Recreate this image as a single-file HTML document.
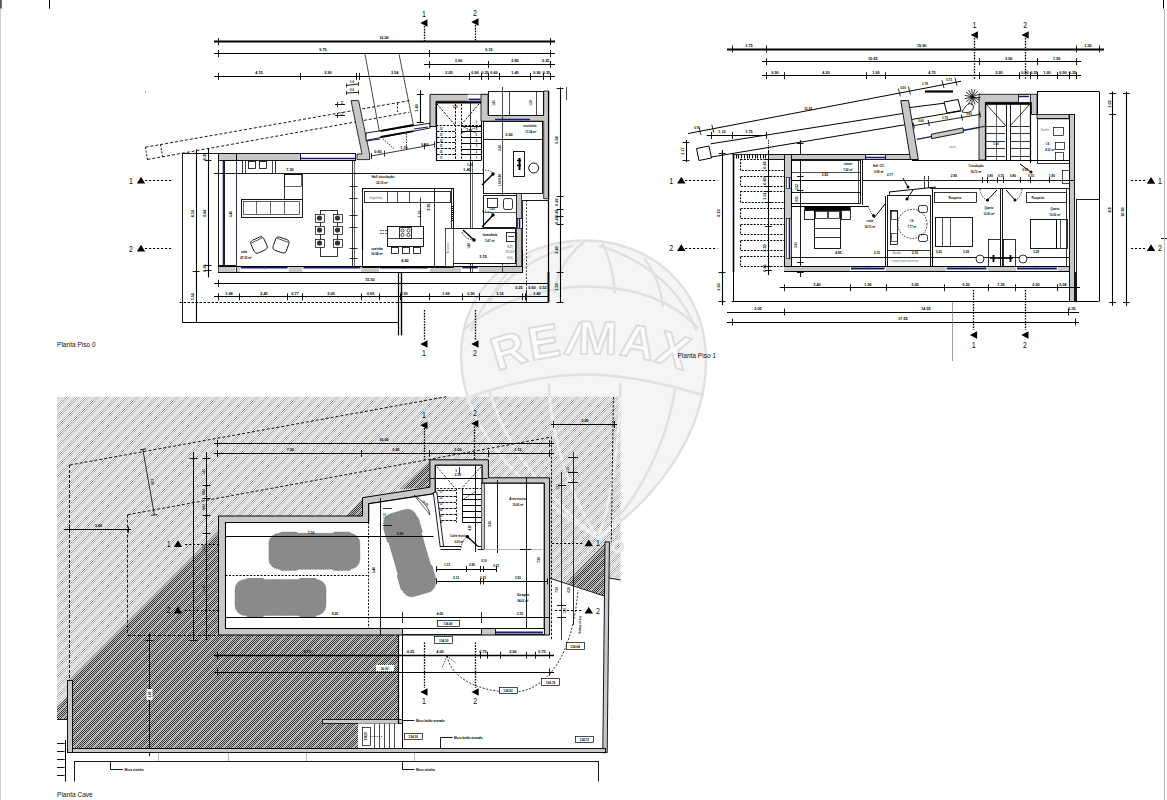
<!DOCTYPE html>
<html><head><meta charset="utf-8"><style>
html,body{margin:0;padding:0;background:#fff;width:1167px;height:800px;overflow:hidden}
svg{display:block}
text{font-family:"Liberation Sans",sans-serif}
</style></head><body>
<svg width="1167" height="800" viewBox="0 0 1167 800">
<defs><pattern id="hl" patternUnits="userSpaceOnUse" width="10" height="10" shape-rendering="crispEdges"><path d="M0 0h1v1h-1zM9 1h1v1h-1zM8 2h1v1h-1zM7 3h1v1h-1zM6 4h1v1h-1zM5 5h1v1h-1zM4 6h1v1h-1zM3 7h1v1h-1zM2 8h1v1h-1zM1 9h1v1h-1z" fill="#f2f2f2"/><path d="M1 0h1v1h-1zM5 0h1v1h-1zM0 1h1v1h-1zM4 1h1v1h-1zM3 2h1v1h-1zM9 2h1v1h-1zM2 3h1v1h-1zM8 3h1v1h-1zM1 4h1v1h-1zM7 4h1v1h-1zM0 5h1v1h-1zM6 5h1v1h-1zM5 6h1v1h-1zM9 6h1v1h-1zM4 7h1v1h-1zM8 7h1v1h-1zM3 8h1v1h-1zM7 8h1v1h-1zM2 9h1v1h-1zM6 9h1v1h-1z" fill="#b8b8b8"/><path d="M2 0h1v1h-1zM4 0h1v1h-1zM1 1h1v1h-1zM3 1h1v1h-1zM0 2h1v1h-1zM2 2h1v1h-1zM1 3h1v1h-1zM9 3h1v1h-1zM0 4h1v1h-1zM8 4h1v1h-1zM7 5h1v1h-1zM9 5h1v1h-1zM6 6h1v1h-1zM8 6h1v1h-1zM5 7h1v1h-1zM7 7h1v1h-1zM4 8h1v1h-1zM6 8h1v1h-1zM3 9h1v1h-1zM5 9h1v1h-1z" fill="#ffffff"/><path d="M3 0h1v1h-1zM2 1h1v1h-1zM1 2h1v1h-1zM0 3h1v1h-1zM9 4h1v1h-1zM8 5h1v1h-1zM7 6h1v1h-1zM6 7h1v1h-1zM5 8h1v1h-1zM4 9h1v1h-1z" fill="#989898"/><path d="M6 0h1v1h-1zM7 0h1v1h-1zM8 0h1v1h-1zM9 0h1v1h-1zM5 1h1v1h-1zM6 1h1v1h-1zM7 1h1v1h-1zM8 1h1v1h-1zM4 2h1v1h-1zM5 2h1v1h-1zM6 2h1v1h-1zM7 2h1v1h-1zM3 3h1v1h-1zM4 3h1v1h-1zM5 3h1v1h-1zM6 3h1v1h-1zM2 4h1v1h-1zM3 4h1v1h-1zM4 4h1v1h-1zM5 4h1v1h-1zM1 5h1v1h-1zM2 5h1v1h-1zM3 5h1v1h-1zM4 5h1v1h-1zM0 6h1v1h-1zM1 6h1v1h-1zM2 6h1v1h-1zM3 6h1v1h-1zM0 7h1v1h-1zM1 7h1v1h-1zM2 7h1v1h-1zM9 7h1v1h-1zM0 8h1v1h-1zM1 8h1v1h-1zM8 8h1v1h-1zM9 8h1v1h-1zM0 9h1v1h-1zM7 9h1v1h-1zM8 9h1v1h-1zM9 9h1v1h-1z" fill="#e1e1e1"/></pattern><pattern id="hd" patternUnits="userSpaceOnUse" width="10" height="10" shape-rendering="crispEdges"><path d="M0 0h1v1h-1zM9 1h1v1h-1zM8 2h1v1h-1zM7 3h1v1h-1zM6 4h1v1h-1zM5 5h1v1h-1zM4 6h1v1h-1zM3 7h1v1h-1zM2 8h1v1h-1zM1 9h1v1h-1z" fill="#a0a0a0"/><path d="M1 0h1v1h-1zM3 0h1v1h-1zM5 0h1v1h-1zM7 0h1v1h-1zM9 0h1v1h-1zM0 1h1v1h-1zM2 1h1v1h-1zM4 1h1v1h-1zM6 1h1v1h-1zM8 1h1v1h-1zM1 2h1v1h-1zM3 2h1v1h-1zM5 2h1v1h-1zM7 2h1v1h-1zM9 2h1v1h-1zM0 3h1v1h-1zM2 3h1v1h-1zM4 3h1v1h-1zM6 3h1v1h-1zM8 3h1v1h-1zM1 4h1v1h-1zM3 4h1v1h-1zM5 4h1v1h-1zM7 4h1v1h-1zM9 4h1v1h-1zM0 5h1v1h-1zM2 5h1v1h-1zM4 5h1v1h-1zM6 5h1v1h-1zM8 5h1v1h-1zM1 6h1v1h-1zM3 6h1v1h-1zM5 6h1v1h-1zM7 6h1v1h-1zM9 6h1v1h-1zM0 7h1v1h-1zM2 7h1v1h-1zM4 7h1v1h-1zM6 7h1v1h-1zM8 7h1v1h-1zM1 8h1v1h-1zM3 8h1v1h-1zM5 8h1v1h-1zM7 8h1v1h-1zM9 8h1v1h-1zM0 9h1v1h-1zM2 9h1v1h-1zM4 9h1v1h-1zM6 9h1v1h-1zM8 9h1v1h-1z" fill="#c6c6c6"/><path d="M2 0h1v1h-1zM4 0h1v1h-1zM6 0h1v1h-1zM8 0h1v1h-1zM1 1h1v1h-1zM3 1h1v1h-1zM5 1h1v1h-1zM7 1h1v1h-1zM0 2h1v1h-1zM2 2h1v1h-1zM4 2h1v1h-1zM6 2h1v1h-1zM1 3h1v1h-1zM3 3h1v1h-1zM5 3h1v1h-1zM9 3h1v1h-1zM0 4h1v1h-1zM2 4h1v1h-1zM4 4h1v1h-1zM8 4h1v1h-1zM1 5h1v1h-1zM3 5h1v1h-1zM7 5h1v1h-1zM9 5h1v1h-1zM0 6h1v1h-1zM2 6h1v1h-1zM6 6h1v1h-1zM8 6h1v1h-1zM1 7h1v1h-1zM5 7h1v1h-1zM7 7h1v1h-1zM9 7h1v1h-1zM0 8h1v1h-1zM4 8h1v1h-1zM6 8h1v1h-1zM8 8h1v1h-1zM3 9h1v1h-1zM5 9h1v1h-1zM7 9h1v1h-1zM9 9h1v1h-1z" fill="#333333"/></pattern></defs>
<rect width="1167" height="800" fill="#fff"/>
<path d="M598 538 C545 505 462 440 461 358 C460 285 520 240.5 585 240.5 C650 240.5 706 287 706 360 C706 440 648 505 598 538 Z" fill="#f5f5f5" stroke="none"/>
<g fill="none" stroke="#e0e0e0" stroke-width="2.4" stroke-linejoin="round" stroke-linecap="round" opacity="1.0">
<path d="M598 538 C545 505 462 440 461 358 C460 285 520 240.5 585 240.5 C650 240.5 706 287 706 360 C706 440 648 505 598 538 Z"/>
<path d="M464 330 C495 300 550 287 585 286.5 C625 286.5 668 296 698 328"/>
<path d="M467 398 C505 384 550 374.5 585 374.5 C620 374.5 660 382 703 395"/>
<path d="M585 241 C566 256 556 275 554.5 292"/>
<path d="M603 244 C610 260 614 276 614.6 292.5"/>
<path d="M530 256 C508 268 496 283 490 303"/>
<path d="M645 259 C656 274 661 290 663 306"/>
<path d="M548.8 384 C551 440 572 500 598 538"/>
<path d="M620.4 384 C620 440 612 500 598 538"/>
<path d="M490 392 C505 450 555 505 598 538"/>
<path d="M675 390 C665 450 635 505 598 538"/>
<path d="M471 330 C488 288 528 258 572 246"/>
<path d="M696 330 C681 290 646 260 600 246"/>
<circle cx="617.8" cy="546.4" r="5"/>
</g>
<defs><path id="wmarc" d="M331 614 A260 260 0 0 1 851 614"/></defs>
<text font-size="47" font-weight="bold" fill="#fbfbfb" stroke="#dadada" stroke-width="1.7" letter-spacing="1.5" font-family="Liberation Sans"><textPath href="#wmarc" startOffset="50%" text-anchor="middle">RE<tspan rotate="20">/</tspan>MAX</textPath></text>
<line x1="214" y1="41.5" x2="555" y2="41.5" stroke="#000" stroke-width="1.9"/>
<line x1="218.5" y1="38.1" x2="218.5" y2="45.1" stroke="#000" stroke-width="0.9"/>
<line x1="550.5" y1="38.1" x2="550.5" y2="45.1" stroke="#000" stroke-width="0.9"/>
<text transform="translate(384 39.4) scale(0.86 1)" font-size="4.4" text-anchor="middle" fill="#000" font-weight="bold">16.00</text>
<line x1="214" y1="53.5" x2="555" y2="53.5" stroke="#000" stroke-width="1.2"/>
<line x1="218.5" y1="50" x2="218.5" y2="57" stroke="#000" stroke-width="0.9"/>
<line x1="429.5" y1="50" x2="429.5" y2="57" stroke="#000" stroke-width="0.9"/>
<line x1="550.5" y1="50" x2="550.5" y2="57" stroke="#000" stroke-width="0.9"/>
<text transform="translate(323 51.3) scale(0.86 1)" font-size="4.4" text-anchor="middle" fill="#000" font-weight="bold">9.75</text>
<text transform="translate(489 51.3) scale(0.86 1)" font-size="4.4" text-anchor="middle" fill="#000" font-weight="bold">6.15</text>
<line x1="424" y1="64.5" x2="555" y2="64.5" stroke="#000" stroke-width="1.2"/>
<line x1="429.5" y1="61" x2="429.5" y2="68" stroke="#000" stroke-width="0.9"/>
<line x1="488.5" y1="61" x2="488.5" y2="68" stroke="#000" stroke-width="0.9"/>
<line x1="550.5" y1="61" x2="550.5" y2="68" stroke="#000" stroke-width="0.9"/>
<text transform="translate(458.5 62.3) scale(0.86 1)" font-size="4.4" text-anchor="middle" fill="#000" font-weight="bold">3.00</text>
<text transform="translate(515 62.3) scale(0.86 1)" font-size="4.4" text-anchor="middle" fill="#000" font-weight="bold">2.80</text>
<text transform="translate(545.7 62.3) scale(0.86 1)" font-size="4.4" text-anchor="middle" fill="#000" font-weight="bold">0.35</text>
<line x1="214" y1="76.5" x2="555" y2="76.5" stroke="#000" stroke-width="1.2"/>
<line x1="218.5" y1="72.9" x2="218.5" y2="79.9" stroke="#000" stroke-width="0.9"/>
<line x1="300.5" y1="72.9" x2="300.5" y2="79.9" stroke="#000" stroke-width="0.9"/>
<line x1="356.5" y1="72.9" x2="356.5" y2="79.9" stroke="#000" stroke-width="0.9"/>
<line x1="359.5" y1="72.9" x2="359.5" y2="79.9" stroke="#000" stroke-width="0.9"/>
<line x1="429.5" y1="72.9" x2="429.5" y2="79.9" stroke="#000" stroke-width="0.9"/>
<line x1="469.5" y1="72.9" x2="469.5" y2="79.9" stroke="#000" stroke-width="0.9"/>
<line x1="481.5" y1="72.9" x2="481.5" y2="79.9" stroke="#000" stroke-width="0.9"/>
<line x1="488.5" y1="72.9" x2="488.5" y2="79.9" stroke="#000" stroke-width="0.9"/>
<line x1="499.5" y1="72.9" x2="499.5" y2="79.9" stroke="#000" stroke-width="0.9"/>
<line x1="530.5" y1="72.9" x2="530.5" y2="79.9" stroke="#000" stroke-width="0.9"/>
<line x1="543.5" y1="72.9" x2="543.5" y2="79.9" stroke="#000" stroke-width="0.9"/>
<line x1="550.5" y1="72.9" x2="550.5" y2="79.9" stroke="#000" stroke-width="0.9"/>
<text transform="translate(259 74.2) scale(0.86 1)" font-size="4.4" text-anchor="middle" fill="#000" font-weight="bold">4.15</text>
<text transform="translate(328 74.2) scale(0.86 1)" font-size="4.4" text-anchor="middle" fill="#000" font-weight="bold">2.90</text>
<text transform="translate(394.7 74.2) scale(0.86 1)" font-size="4.4" text-anchor="middle" fill="#000" font-weight="bold">3.54</text>
<text transform="translate(449 74.2) scale(0.86 1)" font-size="4.4" text-anchor="middle" fill="#000" font-weight="bold">2.05</text>
<text transform="translate(475 74.2) scale(0.86 1)" font-size="4.4" text-anchor="middle" fill="#000" font-weight="bold">0.90</text>
<text transform="translate(485 74.2) scale(0.86 1)" font-size="4.4" text-anchor="middle" fill="#000" font-weight="bold">0.35</text>
<text transform="translate(494 74.2) scale(0.86 1)" font-size="4.4" text-anchor="middle" fill="#000" font-weight="bold">0.60</text>
<text transform="translate(515 74.2) scale(0.86 1)" font-size="4.4" text-anchor="middle" fill="#000" font-weight="bold">1.40</text>
<text transform="translate(537 74.2) scale(0.86 1)" font-size="4.4" text-anchor="middle" fill="#000" font-weight="bold">0.90</text>
<text transform="translate(546.5 74.2) scale(0.86 1)" font-size="4.4" text-anchor="middle" fill="#000" font-weight="bold">0.35</text>
<text transform="translate(424 17) scale(0.85 1)" font-size="8.3" text-anchor="middle" fill="#111" font-weight="normal">1</text>
<polygon points="420.3,23 427.5,19.2 427.5,26.8" fill="#000" stroke="none" stroke-width="0.8"/>
<line x1="424.5" y1="26" x2="424.5" y2="41" stroke="#000" stroke-width="1.3" stroke-dasharray="1.6,1.2"/>
<text transform="translate(475 16) scale(0.85 1)" font-size="8.3" text-anchor="middle" fill="#111" font-weight="normal">2</text>
<polygon points="471.3,22 478.5,18.2 478.5,25.8" fill="#000" stroke="none" stroke-width="0.8"/>
<line x1="475.5" y1="25" x2="475.5" y2="41" stroke="#000" stroke-width="1.3" stroke-dasharray="1.6,1.2"/>
<rect x="145" y="91.5" width="1" height="1" fill="#444" stroke="none" stroke-width="0.8"/>
<line x1="365" y1="54" x2="380.5" y2="138" stroke="#000" stroke-width="0.7"/>
<line x1="399" y1="54" x2="414" y2="128" stroke="#000" stroke-width="0.7"/>
<line x1="145.5" y1="147.2" x2="409.3" y2="100.6" stroke="#000" stroke-width="0.9" stroke-dasharray="3,2"/>
<line x1="147.4" y1="159.5" x2="409.3" y2="112.2" stroke="#000" stroke-width="0.9" stroke-dasharray="3,2"/>
<polyline points="145.5,147.2 147.4,159.5" fill="none" stroke="#000" stroke-width="0.9" stroke-dasharray="2,1.5"/>
<polyline points="160.6,144.5 162.5,157" fill="none" stroke="#000" stroke-width="0.9" stroke-dasharray="2,1.5"/>
<line x1="397.5" y1="103" x2="397.5" y2="112" stroke="#000" stroke-width="0.8" stroke-dasharray="2,1.5"/>
<line x1="346" y1="85.5" x2="358.6" y2="84" stroke="#000" stroke-width="0.9"/>
<line x1="346" y1="93" x2="358.6" y2="92.3" stroke="#000" stroke-width="0.9"/>
<line x1="346.5" y1="83.5" x2="346.5" y2="87.5" stroke="#000" stroke-width="0.7"/>
<line x1="358.5" y1="82" x2="358.5" y2="86" stroke="#000" stroke-width="0.7"/>
<line x1="346.5" y1="91" x2="346.5" y2="95" stroke="#000" stroke-width="0.7"/>
<line x1="358.5" y1="90.3" x2="358.5" y2="94.3" stroke="#000" stroke-width="0.7"/>
<text transform="translate(352 82.5) scale(0.86 1)" font-size="3.2" text-anchor="middle" fill="#000" font-weight="bold">1.6</text>
<text transform="translate(352 90.5) scale(0.86 1)" font-size="3.2" text-anchor="middle" fill="#000" font-weight="bold">0.6</text>
<line x1="335" y1="104.5" x2="345" y2="104.5" stroke="#000" stroke-width="0.9"/>
<line x1="335" y1="115.5" x2="345" y2="115.5" stroke="#000" stroke-width="0.9"/>
<line x1="337.5" y1="102" x2="337.5" y2="107" stroke="#000" stroke-width="0.8"/>
<line x1="337.5" y1="113" x2="337.5" y2="118" stroke="#000" stroke-width="0.8"/>
<text transform="translate(343 103) rotate(-80) scale(0.86 1)" font-size="3.2" text-anchor="middle" fill="#000" font-weight="bold">1.5</text>
<text transform="translate(343 114) rotate(-80) scale(0.86 1)" font-size="3.2" text-anchor="middle" fill="#000" font-weight="bold">1.5</text>
<polygon points="351,100.6 358.6,100.6 369.6,154 369.6,159.6 357,159.6 357,154 362,154" fill="#c8c8c8" stroke="#000" stroke-width="0.8"/>
<polygon points="366,133 430,123.2 430,128 366,140.4" fill="#fff" stroke="#000" stroke-width="0.9"/>
<line x1="366" y1="141" x2="380" y2="139" stroke="#1a1a7a" stroke-width="1.2"/>
<line x1="414" y1="129" x2="428" y2="127" stroke="#1a1a7a" stroke-width="1.2"/>
<line x1="371" y1="156" x2="434" y2="144.5" stroke="#000" stroke-width="0.8"/>
<text transform="translate(378 153) scale(0.86 1)" font-size="4.4" text-anchor="middle" fill="#000" font-weight="bold">0.60</text>
<text transform="translate(404 149) scale(0.86 1)" font-size="4.4" text-anchor="middle" fill="#000" font-weight="bold">1.70</text>
<text transform="translate(425 145.5) scale(0.86 1)" font-size="4.4" text-anchor="middle" fill="#000" font-weight="bold">0.60</text>
<line x1="371.5" y1="153" x2="371.5" y2="159" stroke="#000" stroke-width="0.8"/>
<line x1="384.5" y1="150.63" x2="384.5" y2="156.63" stroke="#000" stroke-width="0.8"/>
<line x1="424.5" y1="143.33" x2="424.5" y2="149.33" stroke="#000" stroke-width="0.8"/>
<line x1="434.5" y1="141.5" x2="434.5" y2="147.5" stroke="#000" stroke-width="0.8"/>
<line x1="383" y1="139" x2="394" y2="148.6" stroke="#000" stroke-width="0.8" stroke-dasharray="1.5,1.2"/>
<line x1="406.5" y1="133.5" x2="406.5" y2="150" stroke="#000" stroke-width="0.8" stroke-dasharray="1.5,1.2"/>
<rect x="380.5" y="126" width="33" height="10" fill="none" stroke="none" stroke-width="0.8"/>
<line x1="380.5" y1="137" x2="413.5" y2="131.2" stroke="#000" stroke-width="1.8"/>
<line x1="380.5" y1="131" x2="413.5" y2="125" stroke="#000" stroke-width="1.8"/>
<line x1="420.5" y1="90.3" x2="420.5" y2="122.5" stroke="#000" stroke-width="1.1"/>
<line x1="416.8" y1="94.5" x2="423.8" y2="94.5" stroke="#000" stroke-width="0.9"/>
<line x1="416.8" y1="122.5" x2="423.8" y2="122.5" stroke="#000" stroke-width="0.9"/>
<text transform="translate(418.3 108) rotate(-90) scale(0.86 1)" font-size="4.4" text-anchor="middle" fill="#000" font-weight="bold">1.40</text>
<rect x="218.5" y="153.5" width="82" height="7" fill="#c8c8c8" stroke="#000" stroke-width="0.9"/>
<line x1="236.5" y1="154" x2="236.5" y2="160" stroke="#000" stroke-width="0.6"/>
<rect x="300.5" y="153.5" width="55" height="7" fill="#fff" stroke="#000" stroke-width="0.9"/>
<line x1="300.3" y1="158.5" x2="355.8" y2="158.5" stroke="#1a1a7a" stroke-width="1.6"/>
<rect x="218.5" y="153.5" width="6" height="119" fill="#fff" stroke="#000" stroke-width="0.9"/>
<line x1="223.5" y1="161" x2="223.5" y2="266" stroke="#1a1a7a" stroke-width="1.6"/>
<rect x="218.5" y="153.5" width="18" height="7" fill="#c8c8c8" stroke="#000" stroke-width="0.9"/>
<rect x="218.5" y="265.5" width="17" height="7" fill="#c8c8c8" stroke="#000" stroke-width="0.9"/>
<line x1="236.5" y1="160" x2="236.5" y2="266" stroke="#000" stroke-width="0.8"/>
<rect x="218.5" y="266.5" width="304" height="6" fill="#fff" stroke="#000" stroke-width="0.9"/>
<rect x="218.6" y="266.8" width="16.8" height="5.2" fill="#c8c8c8" stroke="none" stroke-width="0.8"/>
<rect x="236.8" y="266.8" width="3" height="5.2" fill="#c8c8c8" stroke="none" stroke-width="0.8"/>
<rect x="288.6" y="266.8" width="13.8" height="5.2" fill="#c8c8c8" stroke="none" stroke-width="0.8"/>
<rect x="361.4" y="266.8" width="17.6" height="5.2" fill="#c8c8c8" stroke="none" stroke-width="0.8"/>
<rect x="430.2" y="266.8" width="31" height="5.2" fill="#c8c8c8" stroke="none" stroke-width="0.8"/>
<rect x="479" y="266.8" width="23.5" height="5.2" fill="#c8c8c8" stroke="none" stroke-width="0.8"/>
<rect x="503" y="266.8" width="19.2" height="5.2" fill="#c8c8c8" stroke="none" stroke-width="0.8"/>
<line x1="240.8" y1="267.5" x2="287.6" y2="267.5" stroke="#1a1a7a" stroke-width="1.8"/>
<line x1="264.5" y1="267" x2="264.5" y2="269" stroke="#555" stroke-width="0.8"/>
<line x1="303.4" y1="267.5" x2="360.4" y2="267.5" stroke="#1a1a7a" stroke-width="1.8"/>
<line x1="331.5" y1="267" x2="331.5" y2="269" stroke="#555" stroke-width="0.8"/>
<line x1="380" y1="267.5" x2="427.6" y2="267.5" stroke="#1a1a7a" stroke-width="1.8"/>
<line x1="403.5" y1="267" x2="403.5" y2="269" stroke="#555" stroke-width="0.8"/>
<line x1="462.2" y1="267.5" x2="478" y2="267.5" stroke="#1a1a7a" stroke-width="1.8"/>
<line x1="470.5" y1="267" x2="470.5" y2="269" stroke="#555" stroke-width="0.8"/>
<line x1="236.5" y1="266.4" x2="236.5" y2="272.4" stroke="#000" stroke-width="0.8"/>
<line x1="218.6" y1="266.5" x2="522.2" y2="266.5" stroke="#000" stroke-width="1.0"/>
<line x1="218.6" y1="272.5" x2="522.2" y2="272.5" stroke="#000" stroke-width="1.2"/>
<line x1="522.5" y1="250" x2="522.5" y2="272.3" stroke="#000" stroke-width="1.0"/>
<line x1="224" y1="160.5" x2="356" y2="160.5" stroke="#000" stroke-width="0.9"/>
<line x1="214" y1="173.5" x2="483" y2="173.5" stroke="#000" stroke-width="0.9"/>
<text transform="translate(290 170.5) scale(0.86 1)" font-size="4.4" text-anchor="middle" fill="#000" font-weight="bold">7.30</text>
<rect x="242.5" y="160.5" width="33" height="13" fill="#fff" stroke="#000" stroke-width="0.8"/>
<line x1="245.5" y1="160.5" x2="245.5" y2="173" stroke="#000" stroke-width="0.7"/>
<line x1="272.5" y1="160.5" x2="272.5" y2="173" stroke="#000" stroke-width="0.7"/>
<rect x="248.5" y="161.5" width="7" height="7" fill="none" stroke="#000" stroke-width="0.8"/>
<rect x="259.5" y="161.5" width="7" height="7" fill="none" stroke="#000" stroke-width="0.8"/>
<rect x="241.5" y="199.5" width="61" height="18" fill="none" stroke="#000" stroke-width="0.9"/>
<rect x="243.5" y="201.5" width="56" height="13" fill="none" stroke="#000" stroke-width="0.6"/>
<line x1="256.5" y1="201" x2="256.5" y2="214" stroke="#000" stroke-width="0.6"/>
<line x1="270.5" y1="201" x2="270.5" y2="214" stroke="#000" stroke-width="0.6"/>
<line x1="284.5" y1="201" x2="284.5" y2="214" stroke="#000" stroke-width="0.6"/>
<rect x="284.5" y="174.5" width="18" height="25" fill="none" stroke="#000" stroke-width="0.8"/>
<rect x="284.5" y="174.5" width="17" height="12" fill="none" stroke="#000" stroke-width="0.6"/>
<g transform="rotate(-25 259 245)"><rect x="252" y="238" width="14" height="14" fill="#fff" stroke="#000" stroke-width="0.8" rx="3"/><path d="M253 240 h12" stroke="#000" stroke-width="0.6"/></g>
<g transform="rotate(20 281 245)"><rect x="274" y="238" width="14" height="14" fill="#fff" stroke="#000" stroke-width="0.8" rx="3"/><path d="M275 240 h12" stroke="#000" stroke-width="0.6"/></g>
<rect x="320.5" y="210.5" width="17" height="46" fill="none" stroke="#000" stroke-width="0.8"/>
<rect x="315.5" y="214.5" width="9" height="8" fill="#fff" stroke="#000" stroke-width="0.7"/>
<circle cx="319.5" cy="218" r="2.6" fill="#333"/>
<rect x="333.5" y="214.5" width="9" height="8" fill="#fff" stroke="#000" stroke-width="0.7"/>
<circle cx="337.5" cy="218" r="2.6" fill="#333"/>
<rect x="315.5" y="226.5" width="9" height="8" fill="#fff" stroke="#000" stroke-width="0.7"/>
<circle cx="319.5" cy="230" r="2.6" fill="#333"/>
<rect x="333.5" y="226.5" width="9" height="8" fill="#fff" stroke="#000" stroke-width="0.7"/>
<circle cx="337.5" cy="230" r="2.6" fill="#333"/>
<rect x="315.5" y="239.5" width="9" height="8" fill="#fff" stroke="#000" stroke-width="0.7"/>
<circle cx="319.5" cy="243" r="2.6" fill="#333"/>
<rect x="333.5" y="239.5" width="9" height="8" fill="#fff" stroke="#000" stroke-width="0.7"/>
<circle cx="337.5" cy="243" r="2.6" fill="#333"/>
<text transform="translate(244 253) scale(0.86 1)" font-size="3.6" text-anchor="middle" fill="#000" font-weight="bold">sala</text>
<text transform="translate(246 258.5) scale(0.86 1)" font-size="3.4" text-anchor="middle" fill="#000" font-weight="bold">47.03 m²</text>
<text transform="translate(383 177.5) scale(0.86 1)" font-size="3.8" text-anchor="middle" fill="#000" font-weight="bold">Hall circulação</text>
<text transform="translate(382 183.5) scale(0.86 1)" font-size="3.4" text-anchor="middle" fill="#000" font-weight="bold">22.10 m²</text>
<line x1="352.5" y1="160" x2="352.5" y2="266" stroke="#000" stroke-width="0.8"/>
<line x1="354.5" y1="160" x2="354.5" y2="266" stroke="#000" stroke-width="0.6"/>
<line x1="349.5" y1="173.5" x2="357.5" y2="173.5" stroke="#000" stroke-width="0.8"/>
<line x1="349.5" y1="186.5" x2="357.5" y2="186.5" stroke="#000" stroke-width="0.8"/>
<line x1="349.5" y1="198.5" x2="357.5" y2="198.5" stroke="#000" stroke-width="0.8"/>
<line x1="349.5" y1="215.5" x2="357.5" y2="215.5" stroke="#000" stroke-width="0.8"/>
<line x1="349.5" y1="227.5" x2="357.5" y2="227.5" stroke="#000" stroke-width="0.8"/>
<line x1="349.5" y1="248.5" x2="357.5" y2="248.5" stroke="#000" stroke-width="0.8"/>
<line x1="349.5" y1="258.5" x2="357.5" y2="258.5" stroke="#000" stroke-width="0.8"/>
<rect x="362.5" y="188.5" width="91" height="79" fill="none" stroke="#000" stroke-width="0.9"/>
<rect x="364.5" y="191.5" width="86" height="11" fill="none" stroke="#000" stroke-width="0.8"/>
<line x1="387.5" y1="191" x2="387.5" y2="202.5" stroke="#000" stroke-width="0.7"/>
<line x1="397.5" y1="191" x2="397.5" y2="202.5" stroke="#000" stroke-width="0.7"/>
<line x1="409.5" y1="191" x2="409.5" y2="202.5" stroke="#000" stroke-width="0.7"/>
<line x1="434.5" y1="191" x2="434.5" y2="202.5" stroke="#000" stroke-width="0.7"/>
<text transform="translate(376 198.5) scale(0.86 1)" font-size="3.2" text-anchor="middle" fill="#888" font-weight="bold">frigorífico</text>
<rect x="387.5" y="226.5" width="36" height="20" fill="none" stroke="#000" stroke-width="0.9"/>
<line x1="387" y1="238.5" x2="423" y2="238.5" stroke="#000" stroke-width="0.7"/>
<rect x="399.5" y="227.5" width="12" height="11" fill="none" stroke="#000" stroke-width="0.8"/>
<circle cx="402.5" cy="230.5" r="1.6" fill="none" stroke="#000" stroke-width="0.7"/>
<circle cx="402.5" cy="235" r="1.6" fill="none" stroke="#000" stroke-width="0.7"/>
<circle cx="408.5" cy="230.5" r="1.6" fill="none" stroke="#000" stroke-width="0.7"/>
<circle cx="408.5" cy="235" r="1.6" fill="none" stroke="#000" stroke-width="0.7"/>
<rect x="391.5" y="247.5" width="7" height="6" fill="none" stroke="#000" stroke-width="0.8"/>
<rect x="402.5" y="247.5" width="7" height="6" fill="none" stroke="#000" stroke-width="0.8"/>
<rect x="413.5" y="247.5" width="7" height="6" fill="none" stroke="#000" stroke-width="0.8"/>
<line x1="380" y1="230.5" x2="388" y2="230.5" stroke="#000" stroke-width="0.7" stroke-dasharray="1.5,1"/>
<line x1="380" y1="233.5" x2="388" y2="233.5" stroke="#000" stroke-width="0.7" stroke-dasharray="1.5,1"/>
<line x1="420.5" y1="197.5" x2="420.5" y2="226" stroke="#000" stroke-width="0.8"/>
<text transform="translate(421 214) rotate(-90) scale(0.86 1)" font-size="4.4" text-anchor="middle" fill="#000" font-weight="bold">1.75</text>
<line x1="362.5" y1="209" x2="362.5" y2="250" stroke="#000" stroke-width="1.2"/>
<text transform="translate(377 249.5) scale(0.86 1)" font-size="3.6" text-anchor="middle" fill="#000" font-weight="bold">cozinha</text>
<text transform="translate(377 255) scale(0.86 1)" font-size="3.4" text-anchor="middle" fill="#000" font-weight="bold">16.04 m²</text>
<text transform="translate(405 261.5) scale(0.86 1)" font-size="4.4" text-anchor="middle" fill="#000" font-weight="bold">4.40</text>
<line x1="434.5" y1="188" x2="434.5" y2="267" stroke="#000" stroke-width="0.8"/>
<line x1="451.5" y1="188" x2="451.5" y2="267" stroke="#000" stroke-width="0.8"/>
<line x1="453.5" y1="188" x2="453.5" y2="267" stroke="#000" stroke-width="0.8"/>
<line x1="452.5" y1="206" x2="452.5" y2="221" stroke="#000" stroke-width="1.6" stroke-dasharray="1,1"/>
<text transform="translate(430 207) rotate(-90) scale(0.86 1)" font-size="4.4" text-anchor="middle" fill="#000" font-weight="bold">3.95</text>
<line x1="470.5" y1="95" x2="470.5" y2="272" stroke="#000" stroke-width="0.8"/>
<line x1="472.5" y1="160" x2="472.5" y2="272" stroke="#000" stroke-width="0.6"/>
<line x1="440" y1="173.5" x2="483" y2="173.5" stroke="#000" stroke-width="0.9"/>
<text transform="translate(467 171) scale(0.86 1)" font-size="4.4" text-anchor="middle" fill="#000" font-weight="bold">1.40</text>
<polygon points="430,94.4 488,94.4 488,101.3 436,101.3 436,126.5 430,126.5" fill="#c8c8c8" stroke="#000" stroke-width="0.9"/>
<rect x="467.8" y="94.6" width="13.2" height="6.5" fill="#fff" stroke="none" stroke-width="0.8"/>
<line x1="468.5" y1="99.5" x2="480.5" y2="99.5" stroke="#1a1a7a" stroke-width="1.8"/>
<line x1="436.5" y1="101.3" x2="436.5" y2="160.5" stroke="#000" stroke-width="1.2"/>
<line x1="436" y1="102.5" x2="481" y2="102.5" stroke="#000" stroke-width="2.2"/>
<line x1="481.5" y1="95" x2="481.5" y2="160.5" stroke="#000" stroke-width="1.1"/>
<line x1="436" y1="160.5" x2="481" y2="160.5" stroke="#000" stroke-width="1.0"/>
<line x1="455.5" y1="104" x2="455.5" y2="160" stroke="#000" stroke-width="1.0" stroke-dasharray="2.2,1.3"/>
<line x1="461.5" y1="104" x2="461.5" y2="160" stroke="#000" stroke-width="1.0" stroke-dasharray="2.2,1.3"/>
<line x1="437" y1="131.5" x2="455" y2="131.5" stroke="#000" stroke-width="1.0" stroke-dasharray="2.6,1.2"/>
<line x1="437" y1="137.5" x2="455" y2="137.5" stroke="#000" stroke-width="1.0" stroke-dasharray="2.6,1.2"/>
<line x1="437" y1="142.5" x2="455" y2="142.5" stroke="#000" stroke-width="1.0" stroke-dasharray="2.6,1.2"/>
<line x1="437" y1="148.5" x2="455" y2="148.5" stroke="#000" stroke-width="1.0" stroke-dasharray="2.6,1.2"/>
<line x1="437" y1="154.5" x2="455" y2="154.5" stroke="#000" stroke-width="1.0" stroke-dasharray="2.6,1.2"/>
<line x1="461" y1="126.5" x2="481" y2="126.5" stroke="#000" stroke-width="1.0"/>
<line x1="461" y1="131.5" x2="481" y2="131.5" stroke="#000" stroke-width="1.0"/>
<line x1="461" y1="137.5" x2="481" y2="137.5" stroke="#000" stroke-width="1.0"/>
<line x1="461" y1="143.5" x2="481" y2="143.5" stroke="#000" stroke-width="1.0"/>
<line x1="461" y1="149.5" x2="481" y2="149.5" stroke="#000" stroke-width="1.0"/>
<line x1="461" y1="154.5" x2="481" y2="154.5" stroke="#000" stroke-width="1.0"/>
<line x1="437" y1="104" x2="455" y2="125" stroke="#000" stroke-width="1.0" stroke-dasharray="2.2,1.4"/>
<line x1="479" y1="104" x2="461" y2="125" stroke="#000" stroke-width="1.0" stroke-dasharray="2.2,1.4"/>
<line x1="436" y1="125.5" x2="481" y2="125.5" stroke="#000" stroke-width="1.0" stroke-dasharray="2.2,1.4"/>
<text transform="translate(455 108) scale(0.86 1)" font-size="3" text-anchor="middle" fill="#000" font-weight="bold">12.9</text>
<text transform="translate(441 130) scale(0.86 1)" font-size="2.8" text-anchor="middle" fill="#000" font-weight="bold">12</text>
<text transform="translate(441 135.7) scale(0.86 1)" font-size="2.8" text-anchor="middle" fill="#000" font-weight="bold">13</text>
<text transform="translate(441 141.5) scale(0.86 1)" font-size="2.8" text-anchor="middle" fill="#000" font-weight="bold">14</text>
<text transform="translate(441 147.3) scale(0.86 1)" font-size="2.8" text-anchor="middle" fill="#000" font-weight="bold">15</text>
<text transform="translate(441 153) scale(0.86 1)" font-size="2.8" text-anchor="middle" fill="#000" font-weight="bold">16</text>
<text transform="translate(441 158.7) scale(0.86 1)" font-size="2.8" text-anchor="middle" fill="#000" font-weight="bold">17</text>
<text transform="translate(476.5 124) scale(0.86 1)" font-size="2.8" text-anchor="middle" fill="#000" font-weight="bold">7</text>
<text transform="translate(476.5 130) scale(0.86 1)" font-size="2.8" text-anchor="middle" fill="#000" font-weight="bold">6</text>
<text transform="translate(476.5 135.7) scale(0.86 1)" font-size="2.8" text-anchor="middle" fill="#000" font-weight="bold">5</text>
<text transform="translate(476.5 141.5) scale(0.86 1)" font-size="2.8" text-anchor="middle" fill="#000" font-weight="bold">4</text>
<text transform="translate(476.5 147.3) scale(0.86 1)" font-size="2.8" text-anchor="middle" fill="#000" font-weight="bold">3</text>
<text transform="translate(476.5 153) scale(0.86 1)" font-size="2.8" text-anchor="middle" fill="#000" font-weight="bold">2</text>
<text transform="translate(476.5 158.7) scale(0.86 1)" font-size="2.8" text-anchor="middle" fill="#000" font-weight="bold">1</text>
<line x1="462" y1="133" x2="480" y2="126" stroke="#000" stroke-width="0.8" stroke-dasharray="1.5,1"/>
<line x1="462" y1="126" x2="476" y2="133" stroke="#000" stroke-width="0.8" stroke-dasharray="1.5,1"/>
<text transform="translate(470 166) scale(0.86 1)" font-size="3.6" text-anchor="middle" fill="#000" font-weight="bold">1.40</text>
<rect x="481" y="94.4" width="67.7" height="4" fill="#fff" stroke="none" stroke-width="0.8"/>
<polygon points="481,94.4 488,94.4 488,115 543.7,115 543.7,91 548.7,91 548.7,198.7 543.7,198.7 543.7,121.2 481,121.2" fill="#c8c8c8" stroke="#000" stroke-width="0.8"/>
<rect x="488.5" y="91.5" width="55" height="24" fill="#fff" stroke="#000" stroke-width="0.9"/>
<line x1="509.5" y1="91.2" x2="509.5" y2="115" stroke="#000" stroke-width="0.7"/>
<line x1="536.5" y1="91.2" x2="536.5" y2="115" stroke="#000" stroke-width="0.7"/>
<line x1="495" y1="119.5" x2="530" y2="119.5" stroke="#1a1a7a" stroke-width="1.6"/>
<text transform="translate(495 103) rotate(-90) scale(0.86 1)" font-size="3.4" text-anchor="middle" fill="#000" font-weight="bold">1.85</text>
<text transform="translate(532 103) rotate(-90) scale(0.86 1)" font-size="3.4" text-anchor="middle" fill="#000" font-weight="bold">1.50</text>
<rect x="483.5" y="121.5" width="59" height="72" fill="#fff" stroke="#000" stroke-width="0.9"/>
<line x1="483.7" y1="139.5" x2="542.5" y2="139.5" stroke="#000" stroke-width="0.9"/>
<text transform="translate(530 127) scale(0.86 1)" font-size="3.4" text-anchor="middle" fill="#000" font-weight="bold">escritório</text>
<text transform="translate(531 133) scale(0.86 1)" font-size="3.2" text-anchor="middle" fill="#000" font-weight="bold">11.04 m²</text>
<text transform="translate(509 136) scale(0.86 1)" font-size="4.4" text-anchor="middle" fill="#000" font-weight="bold">3.00</text>
<rect x="513.5" y="151.5" width="11" height="25" fill="none" stroke="#000" stroke-width="0.9"/>
<line x1="517" y1="160.5" x2="521" y2="160.5" stroke="#000" stroke-width="1.5"/>
<line x1="517" y1="165.5" x2="521" y2="165.5" stroke="#000" stroke-width="1.5"/>
<line x1="519.5" y1="158" x2="519.5" y2="170" stroke="#000" stroke-width="2"/>
<circle cx="533.7" cy="168" r="5" fill="#fff" stroke="#000" stroke-width="0.9"/>
<line x1="502.5" y1="87" x2="502.5" y2="272" stroke="#000" stroke-width="0.7"/>
<text transform="translate(501 148) rotate(-90) scale(0.86 1)" font-size="3.4" text-anchor="middle" fill="#000" font-weight="bold">2.40</text>
<text transform="translate(501 180) rotate(-90) scale(0.86 1)" font-size="3.4" text-anchor="middle" fill="#000" font-weight="bold">1.60 0.80</text>
<rect x="483.5" y="195.5" width="33" height="32" fill="#fff" stroke="#000" stroke-width="0.9"/>
<rect x="487.5" y="198.5" width="10" height="9" fill="none" stroke="#000" stroke-width="0.8"/>
<rect x="503.5" y="198.5" width="9" height="11" fill="none" stroke="#000" stroke-width="0.8" rx="2"/>
<text transform="translate(492 210) scale(0.86 1)" font-size="3.2" text-anchor="middle" fill="#000" font-weight="bold">1.60</text>
<line x1="483.7" y1="212.5" x2="516" y2="212.5" stroke="#000" stroke-width="0.6"/>
<rect x="452.5" y="228.5" width="63" height="35" fill="#fff" stroke="#000" stroke-width="0.9"/>
<text transform="translate(490 236) scale(0.86 1)" font-size="3.4" text-anchor="middle" fill="#000" font-weight="bold">lavandaria</text>
<text transform="translate(490 242) scale(0.86 1)" font-size="3.2" text-anchor="middle" fill="#000" font-weight="bold">5.67 m²</text>
<text transform="translate(483 258) scale(0.86 1)" font-size="4.4" text-anchor="middle" fill="#000" font-weight="bold">3.15</text>
<text transform="translate(470 246) rotate(-90) scale(0.86 1)" font-size="3.4" text-anchor="middle" fill="#000" font-weight="bold">1.80</text>
<rect x="506.5" y="232.5" width="10" height="9" fill="none" stroke="#000" stroke-width="0.8"/>
<line x1="508" y1="236.5" x2="514" y2="236.5" stroke="#000" stroke-width="0.7"/>
<text transform="translate(510 248) scale(0.86 1)" font-size="3" text-anchor="middle" fill="#999" font-weight="bold">MAQ</text>
<text transform="translate(510 253) scale(0.86 1)" font-size="3" text-anchor="middle" fill="#999" font-weight="bold">SECAR</text>
<text transform="translate(510 259) scale(0.86 1)" font-size="3" text-anchor="middle" fill="#999" font-weight="bold">MAQ</text>
<rect x="445.5" y="228.5" width="8" height="38" fill="#fff" stroke="#000" stroke-width="0.7"/>
<text transform="translate(449 248) rotate(-90) scale(0.86 1)" font-size="3" text-anchor="middle" fill="#999" font-weight="bold">Arrumos</text>
<rect x="516.5" y="193.5" width="5" height="73" fill="#c8c8c8" stroke="#000" stroke-width="0.7"/>
<rect x="517.5" y="218.5" width="5" height="10" fill="#fff" stroke="#000" stroke-width="0.7"/>
<line x1="519.5" y1="218" x2="519.5" y2="228" stroke="#1a1a7a" stroke-width="1.6"/>
<line x1="522.5" y1="200.5" x2="548.7" y2="200.5" stroke="#000" stroke-width="0.9"/>
<line x1="526.5" y1="200" x2="526.5" y2="300" stroke="#000" stroke-width="0.7" stroke-dasharray="2,1.5"/>
<line x1="548.5" y1="91" x2="548.5" y2="302" stroke="#000" stroke-width="1.2"/>
<line x1="522.5" y1="200" x2="522.5" y2="272" stroke="#000" stroke-width="0.8"/>
<line x1="560.5" y1="87.5" x2="560.5" y2="302" stroke="#000" stroke-width="1.1"/>
<line x1="556.5" y1="88.5" x2="563.5" y2="88.5" stroke="#000" stroke-width="0.9"/>
<line x1="556.5" y1="196.5" x2="563.5" y2="196.5" stroke="#000" stroke-width="0.9"/>
<line x1="556.5" y1="209.5" x2="563.5" y2="209.5" stroke="#000" stroke-width="0.9"/>
<line x1="556.5" y1="216.5" x2="563.5" y2="216.5" stroke="#000" stroke-width="0.9"/>
<line x1="556.5" y1="224.5" x2="563.5" y2="224.5" stroke="#000" stroke-width="0.9"/>
<line x1="556.5" y1="272.5" x2="563.5" y2="272.5" stroke="#000" stroke-width="0.9"/>
<line x1="556.5" y1="302.5" x2="563.5" y2="302.5" stroke="#000" stroke-width="0.9"/>
<text transform="translate(558 140) rotate(-90) scale(0.86 1)" font-size="4.4" text-anchor="middle" fill="#000" font-weight="bold">5.58</text>
<text transform="translate(558 202) rotate(-90) scale(0.86 1)" font-size="4.4" text-anchor="middle" fill="#000" font-weight="bold">0.42</text>
<text transform="translate(558 213) rotate(-90) scale(0.86 1)" font-size="4.4" text-anchor="middle" fill="#000" font-weight="bold">0.85</text>
<text transform="translate(558 220) rotate(-90) scale(0.86 1)" font-size="4.4" text-anchor="middle" fill="#000" font-weight="bold">0.42</text>
<text transform="translate(558 250) rotate(-90) scale(0.86 1)" font-size="4.4" text-anchor="middle" fill="#000" font-weight="bold">2.40</text>
<text transform="translate(558 287) rotate(-90) scale(0.86 1)" font-size="4.4" text-anchor="middle" fill="#000" font-weight="bold">1.50</text>
<line x1="566.5" y1="87" x2="566.5" y2="100" stroke="#000" stroke-width="0.7"/>
<line x1="214" y1="283.5" x2="549" y2="283.5" stroke="#000" stroke-width="1.2"/>
<line x1="218.5" y1="279.8" x2="218.5" y2="286.8" stroke="#000" stroke-width="0.9"/>
<line x1="398.5" y1="279.8" x2="398.5" y2="286.8" stroke="#000" stroke-width="0.9"/>
<line x1="548.5" y1="279.8" x2="548.5" y2="286.8" stroke="#000" stroke-width="0.9"/>
<text transform="translate(370 281.1) scale(0.86 1)" font-size="4.4" text-anchor="middle" fill="#000" font-weight="bold">15.50</text>
<line x1="214" y1="296.5" x2="549" y2="296.5" stroke="#000" stroke-width="1.2"/>
<line x1="218.5" y1="293.3" x2="218.5" y2="300.3" stroke="#000" stroke-width="0.9"/>
<line x1="239.5" y1="293.3" x2="239.5" y2="300.3" stroke="#000" stroke-width="0.9"/>
<line x1="287.5" y1="293.3" x2="287.5" y2="300.3" stroke="#000" stroke-width="0.9"/>
<line x1="302.5" y1="293.3" x2="302.5" y2="300.3" stroke="#000" stroke-width="0.9"/>
<line x1="361.5" y1="293.3" x2="361.5" y2="300.3" stroke="#000" stroke-width="0.9"/>
<line x1="379.5" y1="293.3" x2="379.5" y2="300.3" stroke="#000" stroke-width="0.9"/>
<line x1="398.5" y1="293.3" x2="398.5" y2="300.3" stroke="#000" stroke-width="0.9"/>
<line x1="400.5" y1="293.3" x2="400.5" y2="300.3" stroke="#000" stroke-width="0.9"/>
<line x1="429.5" y1="293.3" x2="429.5" y2="300.3" stroke="#000" stroke-width="0.9"/>
<line x1="462.5" y1="293.3" x2="462.5" y2="300.3" stroke="#000" stroke-width="0.9"/>
<line x1="479.5" y1="293.3" x2="479.5" y2="300.3" stroke="#000" stroke-width="0.9"/>
<line x1="522.5" y1="293.3" x2="522.5" y2="300.3" stroke="#000" stroke-width="0.9"/>
<line x1="525.5" y1="293.3" x2="525.5" y2="300.3" stroke="#000" stroke-width="0.9"/>
<line x1="548.5" y1="293.3" x2="548.5" y2="300.3" stroke="#000" stroke-width="0.9"/>
<text transform="translate(229 294.6) scale(0.86 1)" font-size="4.4" text-anchor="middle" fill="#000" font-weight="bold">1.08</text>
<text transform="translate(264 294.6) scale(0.86 1)" font-size="4.4" text-anchor="middle" fill="#000" font-weight="bold">2.45</text>
<text transform="translate(295 294.6) scale(0.86 1)" font-size="4.4" text-anchor="middle" fill="#000" font-weight="bold">0.77</text>
<text transform="translate(331 294.6) scale(0.86 1)" font-size="4.4" text-anchor="middle" fill="#000" font-weight="bold">3.00</text>
<text transform="translate(370.6 294.6) scale(0.86 1)" font-size="4.4" text-anchor="middle" fill="#000" font-weight="bold">0.95</text>
<text transform="translate(404 294.6) scale(0.86 1)" font-size="4.4" text-anchor="middle" fill="#000" font-weight="bold">2.50</text>
<text transform="translate(446 294.6) scale(0.86 1)" font-size="4.4" text-anchor="middle" fill="#000" font-weight="bold">1.69</text>
<text transform="translate(471 294.6) scale(0.86 1)" font-size="4.4" text-anchor="middle" fill="#000" font-weight="bold">0.90</text>
<text transform="translate(500 294.6) scale(0.86 1)" font-size="4.4" text-anchor="middle" fill="#000" font-weight="bold">3.16</text>
<text transform="translate(537 294.6) scale(0.86 1)" font-size="4.4" text-anchor="middle" fill="#000" font-weight="bold">1.40</text>
<line x1="526.5" y1="290" x2="526.5" y2="302" stroke="#000" stroke-width="0.7"/>
<text transform="translate(519 289) scale(0.86 1)" font-size="4.4" text-anchor="middle" fill="#000" font-weight="bold">0.25</text>
<text transform="translate(532 289) scale(0.86 1)" font-size="4.4" text-anchor="middle" fill="#000" font-weight="bold">0.60</text>
<text transform="translate(543 289) scale(0.86 1)" font-size="4.4" text-anchor="middle" fill="#000" font-weight="bold">0.52</text>
<line x1="179.5" y1="302.5" x2="400.7" y2="302.5" stroke="#000" stroke-width="1.1" stroke-dasharray="2.5,1.5"/>
<line x1="400.7" y1="302.5" x2="548.5" y2="302.5" stroke="#000" stroke-width="1.2"/>
<line x1="548.5" y1="272" x2="548.5" y2="302.2" stroke="#000" stroke-width="1.8"/>
<line x1="398.5" y1="272" x2="398.5" y2="335.4" stroke="#000" stroke-width="1.2"/>
<line x1="401.5" y1="272" x2="401.5" y2="335.4" stroke="#000" stroke-width="1.4"/>
<line x1="182.3" y1="322.5" x2="398" y2="322.5" stroke="#000" stroke-width="1.0"/>
<line x1="182.5" y1="153" x2="182.5" y2="322.4" stroke="#000" stroke-width="0.9"/>
<line x1="182.3" y1="153.5" x2="218.6" y2="153.5" stroke="#000" stroke-width="0.9"/>
<line x1="196.5" y1="149.5" x2="196.5" y2="323" stroke="#000" stroke-width="1.1"/>
<line x1="192.6" y1="153.5" x2="199.6" y2="153.5" stroke="#000" stroke-width="0.9"/>
<line x1="192.6" y1="271.5" x2="199.6" y2="271.5" stroke="#000" stroke-width="0.9"/>
<text transform="translate(194.1 213.6) rotate(-90) scale(0.86 1)" font-size="4.4" text-anchor="middle" fill="#000" font-weight="bold">6.10</text>
<text transform="translate(194.1 296.7) rotate(-90) scale(0.86 1)" font-size="4.4" text-anchor="middle" fill="#000" font-weight="bold">1.50</text>
<line x1="208.5" y1="148.3" x2="208.5" y2="277.3" stroke="#000" stroke-width="1.1"/>
<line x1="204.5" y1="153.5" x2="211.5" y2="153.5" stroke="#000" stroke-width="0.9"/>
<line x1="204.5" y1="160.5" x2="211.5" y2="160.5" stroke="#000" stroke-width="0.9"/>
<line x1="204.5" y1="265.5" x2="211.5" y2="265.5" stroke="#000" stroke-width="0.9"/>
<line x1="204.5" y1="270.5" x2="211.5" y2="270.5" stroke="#000" stroke-width="0.9"/>
<text transform="translate(206 156.5) rotate(-90) scale(0.86 1)" font-size="4.4" text-anchor="middle" fill="#000" font-weight="bold">0.35</text>
<text transform="translate(206 213.6) rotate(-90) scale(0.86 1)" font-size="4.4" text-anchor="middle" fill="#000" font-weight="bold">3.44</text>
<text transform="translate(206 268) rotate(-90) scale(0.86 1)" font-size="4.4" text-anchor="middle" fill="#000" font-weight="bold">0.35</text>
<text transform="translate(232 214) rotate(-90) scale(0.86 1)" font-size="3.6" text-anchor="middle" fill="#000" font-weight="bold">5.40</text>
<text transform="translate(131 183.5) scale(0.85 1)" font-size="8.3" text-anchor="middle" fill="#111" font-weight="normal">1</text>
<polygon points="136.8,183.5 145.2,183.5 141,176.7" fill="#000" stroke="none" stroke-width="0.8"/>
<line x1="145" y1="180.5" x2="173" y2="180.5" stroke="#000" stroke-width="1.0" stroke-dasharray="2.2,1.8"/>
<text transform="translate(131 251.5) scale(0.85 1)" font-size="8.3" text-anchor="middle" fill="#111" font-weight="normal">2</text>
<polygon points="136.8,251.5 145.2,251.5 141,244.7" fill="#000" stroke="none" stroke-width="0.8"/>
<line x1="145" y1="248.5" x2="173" y2="248.5" stroke="#000" stroke-width="1.0" stroke-dasharray="2.2,1.8"/>
<line x1="424.5" y1="310" x2="424.5" y2="340" stroke="#000" stroke-width="1.3" stroke-dasharray="1.6,1.2"/>
<polygon points="420.3,344 427.5,340.2 427.5,347.8" fill="#000" stroke="none" stroke-width="0.8"/>
<text transform="translate(424 356) scale(0.85 1)" font-size="8.3" text-anchor="middle" fill="#111" font-weight="normal">1</text>
<line x1="475.5" y1="310" x2="475.5" y2="340" stroke="#000" stroke-width="1.3" stroke-dasharray="1.6,1.2"/>
<polygon points="471.3,344 478.5,340.2 478.5,347.8" fill="#000" stroke="none" stroke-width="0.8"/>
<text transform="translate(475 356) scale(0.85 1)" font-size="8.3" text-anchor="middle" fill="#111" font-weight="normal">2</text>
<text transform="translate(57 347) scale(0.9 1)" font-size="7.3" text-anchor="start" fill="#111" font-weight="normal">Planta Piso 0</text>
<line x1="482" y1="185" x2="493" y2="174" stroke="#000" stroke-width="1.4"/>
<circle cx="493" cy="174" r="1.7" fill="#000"/>
<path d="M482 170 Q492 170 493 174" fill="none" stroke="#000" stroke-width="0.8" stroke-dasharray="1.6,1.2"/>
<line x1="482" y1="227" x2="493" y2="215" stroke="#000" stroke-width="1.4"/>
<circle cx="493" cy="215" r="1.7" fill="#000"/>
<path d="M482 211 Q492 211 493 215" fill="none" stroke="#000" stroke-width="0.8" stroke-dasharray="1.6,1.2"/>
<line x1="463" y1="230" x2="474" y2="240" stroke="#000" stroke-width="1.4"/>
<circle cx="474" cy="240" r="1.7" fill="#000"/>
<path d="M462 232 Q466 240 474 240" fill="none" stroke="#000" stroke-width="0.8" stroke-dasharray="1.6,1.2"/>
<line x1="727" y1="49.5" x2="1104" y2="49.5" stroke="#000" stroke-width="1.9"/>
<line x1="732.5" y1="45.5" x2="732.5" y2="52.5" stroke="#000" stroke-width="0.9"/>
<line x1="766.5" y1="45.5" x2="766.5" y2="52.5" stroke="#000" stroke-width="0.9"/>
<line x1="1076.5" y1="45.5" x2="1076.5" y2="52.5" stroke="#000" stroke-width="0.9"/>
<line x1="1099.5" y1="45.5" x2="1099.5" y2="52.5" stroke="#000" stroke-width="0.9"/>
<text transform="translate(749 46.8) scale(0.86 1)" font-size="4.4" text-anchor="middle" fill="#000" font-weight="bold">1.75</text>
<text transform="translate(921.7 46.8) scale(0.86 1)" font-size="4.4" text-anchor="middle" fill="#000" font-weight="bold">15.90</text>
<text transform="translate(1088 46.8) scale(0.86 1)" font-size="4.4" text-anchor="middle" fill="#000" font-weight="bold">1.30</text>
<line x1="762" y1="61.5" x2="1081" y2="61.5" stroke="#000" stroke-width="1.2"/>
<line x1="766.5" y1="58.2" x2="766.5" y2="65.2" stroke="#000" stroke-width="0.9"/>
<line x1="979.5" y1="58.2" x2="979.5" y2="65.2" stroke="#000" stroke-width="0.9"/>
<line x1="1037.5" y1="58.2" x2="1037.5" y2="65.2" stroke="#000" stroke-width="0.9"/>
<line x1="1076.5" y1="58.2" x2="1076.5" y2="65.2" stroke="#000" stroke-width="0.9"/>
<text transform="translate(873 59.5) scale(0.86 1)" font-size="4.4" text-anchor="middle" fill="#000" font-weight="bold">10.65</text>
<text transform="translate(1008.7 59.5) scale(0.86 1)" font-size="4.4" text-anchor="middle" fill="#000" font-weight="bold">3.90</text>
<text transform="translate(1056.7 59.5) scale(0.86 1)" font-size="4.4" text-anchor="middle" fill="#000" font-weight="bold">1.95</text>
<line x1="762" y1="75.5" x2="1081" y2="75.5" stroke="#000" stroke-width="1.2"/>
<line x1="766.5" y1="72.2" x2="766.5" y2="79.2" stroke="#000" stroke-width="0.9"/>
<line x1="784.5" y1="72.2" x2="784.5" y2="79.2" stroke="#000" stroke-width="0.9"/>
<line x1="866.5" y1="72.2" x2="866.5" y2="79.2" stroke="#000" stroke-width="0.9"/>
<line x1="885.5" y1="72.2" x2="885.5" y2="79.2" stroke="#000" stroke-width="0.9"/>
<line x1="979.5" y1="72.2" x2="979.5" y2="79.2" stroke="#000" stroke-width="0.9"/>
<line x1="1019.5" y1="72.2" x2="1019.5" y2="79.2" stroke="#000" stroke-width="0.9"/>
<line x1="1030.5" y1="72.2" x2="1030.5" y2="79.2" stroke="#000" stroke-width="0.9"/>
<line x1="1037.5" y1="72.2" x2="1037.5" y2="79.2" stroke="#000" stroke-width="0.9"/>
<line x1="1057.5" y1="72.2" x2="1057.5" y2="79.2" stroke="#000" stroke-width="0.9"/>
<line x1="1069.5" y1="72.2" x2="1069.5" y2="79.2" stroke="#000" stroke-width="0.9"/>
<line x1="1076.5" y1="72.2" x2="1076.5" y2="79.2" stroke="#000" stroke-width="0.9"/>
<text transform="translate(775 73.5) scale(0.86 1)" font-size="4.4" text-anchor="middle" fill="#000" font-weight="bold">0.90</text>
<text transform="translate(826 73.5) scale(0.86 1)" font-size="4.4" text-anchor="middle" fill="#000" font-weight="bold">4.20</text>
<text transform="translate(876 73.5) scale(0.86 1)" font-size="4.4" text-anchor="middle" fill="#000" font-weight="bold">1.00</text>
<text transform="translate(932 73.5) scale(0.86 1)" font-size="4.4" text-anchor="middle" fill="#000" font-weight="bold">4.75</text>
<text transform="translate(999 73.5) scale(0.86 1)" font-size="4.4" text-anchor="middle" fill="#000" font-weight="bold">2.05</text>
<text transform="translate(1025 73.5) scale(0.86 1)" font-size="4.4" text-anchor="middle" fill="#000" font-weight="bold">0.90</text>
<text transform="translate(1034 73.5) scale(0.86 1)" font-size="4.4" text-anchor="middle" fill="#000" font-weight="bold">0.35</text>
<text transform="translate(1047 73.5) scale(0.86 1)" font-size="4.4" text-anchor="middle" fill="#000" font-weight="bold">1.00</text>
<text transform="translate(1063 73.5) scale(0.86 1)" font-size="4.4" text-anchor="middle" fill="#000" font-weight="bold">0.90</text>
<text transform="translate(1072.5 73.5) scale(0.86 1)" font-size="4.4" text-anchor="middle" fill="#000" font-weight="bold">0.35</text>
<text transform="translate(974.4 28) scale(0.85 1)" font-size="8.3" text-anchor="middle" fill="#111" font-weight="normal">1</text>
<polygon points="970.7,35 977.9,31.2 977.9,38.8" fill="#000" stroke="none" stroke-width="0.8"/>
<line x1="974.5" y1="38" x2="974.5" y2="79" stroke="#000" stroke-width="1.3" stroke-dasharray="1.6,1.2"/>
<text transform="translate(1025.2 28) scale(0.85 1)" font-size="8.3" text-anchor="middle" fill="#111" font-weight="normal">2</text>
<polygon points="1021.5,35 1028.7,31.2 1028.7,38.8" fill="#000" stroke="none" stroke-width="0.8"/>
<line x1="1025.5" y1="38" x2="1025.5" y2="79" stroke="#000" stroke-width="1.3" stroke-dasharray="1.6,1.2"/>
<line x1="688.2" y1="133.5" x2="961" y2="81.3" stroke="#000" stroke-width="1.0"/>
<line x1="699" y1="127.2" x2="701" y2="135.2" stroke="#000" stroke-width="0.8"/>
<line x1="711.8" y1="124.7" x2="713.8" y2="132.7" stroke="#000" stroke-width="0.8"/>
<line x1="898.4" y1="88.5" x2="900.4" y2="96.5" stroke="#000" stroke-width="0.8"/>
<line x1="908.4" y1="86.6" x2="910.4" y2="94.6" stroke="#000" stroke-width="0.8"/>
<line x1="942" y1="80.2" x2="944" y2="88.2" stroke="#000" stroke-width="0.8"/>
<line x1="955" y1="77.7" x2="957" y2="85.7" stroke="#000" stroke-width="0.8"/>
<text transform="translate(697 129) scale(0.86 1)" font-size="3.4" text-anchor="middle" fill="#000" font-weight="bold">0.70</text>
<text transform="translate(808 110) scale(0.86 1)" font-size="3.6" text-anchor="middle" fill="#000" font-weight="bold">10.24</text>
<text transform="translate(903 89) scale(0.86 1)" font-size="3.4" text-anchor="middle" fill="#000" font-weight="bold">0.50</text>
<text transform="translate(925 85) scale(0.86 1)" font-size="3.6" text-anchor="middle" fill="#000" font-weight="bold">1.76</text>
<text transform="translate(949 80.5) scale(0.86 1)" font-size="3.4" text-anchor="middle" fill="#000" font-weight="bold">0.73</text>
<line x1="925" y1="91.5" x2="953" y2="91.5" stroke="#000" stroke-width="2.2"/>
<line x1="710.8" y1="143.8" x2="903.5" y2="113.4" stroke="#000" stroke-width="1.0"/>
<line x1="710.8" y1="157.1" x2="906.5" y2="124.5" stroke="#000" stroke-width="1.0"/>
<polygon points="696.5,148.5 709,146 711.5,158 699,160.5" fill="#fff" stroke="#000" stroke-width="1"/>
<line x1="706.7" y1="135.5" x2="766.4" y2="135.5" stroke="#000" stroke-width="1.2"/>
<line x1="711.5" y1="132" x2="711.5" y2="139" stroke="#000" stroke-width="0.9"/>
<line x1="732.5" y1="132" x2="732.5" y2="139" stroke="#000" stroke-width="0.9"/>
<line x1="766.5" y1="132" x2="766.5" y2="139" stroke="#000" stroke-width="0.9"/>
<text transform="translate(722 133.3) scale(0.86 1)" font-size="4.4" text-anchor="middle" fill="#000" font-weight="bold">1.10</text>
<text transform="translate(749 133.3) scale(0.86 1)" font-size="4.4" text-anchor="middle" fill="#000" font-weight="bold">1.75</text>
<line x1="686.5" y1="140" x2="686.5" y2="162" stroke="#000" stroke-width="1.1"/>
<line x1="682.5" y1="142.5" x2="689.5" y2="142.5" stroke="#000" stroke-width="0.9"/>
<line x1="682.5" y1="160.5" x2="689.5" y2="160.5" stroke="#000" stroke-width="0.9"/>
<text transform="translate(684 151) rotate(-90) scale(0.86 1)" font-size="4.4" text-anchor="middle" fill="#000" font-weight="bold">1.77</text>
<line x1="768.5" y1="140" x2="768.5" y2="160" stroke="#000" stroke-width="0.8" stroke-dasharray="1.5,1"/>
<line x1="800.5" y1="140" x2="800.5" y2="277" stroke="#000" stroke-width="0.9"/>
<line x1="797" y1="143.5" x2="803.6" y2="143.5" stroke="#000" stroke-width="0.9"/>
<line x1="797" y1="176.5" x2="803.6" y2="176.5" stroke="#000" stroke-width="0.9"/>
<line x1="797" y1="190.5" x2="803.6" y2="190.5" stroke="#000" stroke-width="0.9"/>
<line x1="797" y1="203.5" x2="803.6" y2="203.5" stroke="#000" stroke-width="0.9"/>
<line x1="797" y1="262.5" x2="803.6" y2="262.5" stroke="#000" stroke-width="0.9"/>
<line x1="797" y1="272.5" x2="803.6" y2="272.5" stroke="#000" stroke-width="0.9"/>
<text transform="translate(798 187) rotate(-90) scale(0.86 1)" font-size="3.4" text-anchor="middle" fill="#000" font-weight="bold">2.22</text>
<text transform="translate(798 199) rotate(-90) scale(0.86 1)" font-size="3.4" text-anchor="middle" fill="#000" font-weight="bold">0.95</text>
<line x1="732.4" y1="154.5" x2="768.4" y2="154.5" stroke="#000" stroke-width="0.8"/>
<line x1="733.5" y1="154.5" x2="733.5" y2="158.5" stroke="#000" stroke-width="1.1"/>
<line x1="736.5" y1="154.5" x2="736.5" y2="158.5" stroke="#000" stroke-width="1.1"/>
<line x1="738.5" y1="154.5" x2="738.5" y2="158.5" stroke="#000" stroke-width="1.1"/>
<line x1="741.5" y1="154.5" x2="741.5" y2="158.5" stroke="#000" stroke-width="1.1"/>
<line x1="744.5" y1="154.5" x2="744.5" y2="158.5" stroke="#000" stroke-width="1.1"/>
<line x1="747.5" y1="154.5" x2="747.5" y2="158.5" stroke="#000" stroke-width="1.1"/>
<line x1="749.5" y1="154.5" x2="749.5" y2="158.5" stroke="#000" stroke-width="1.1"/>
<line x1="752.5" y1="154.5" x2="752.5" y2="158.5" stroke="#000" stroke-width="1.1"/>
<line x1="755.5" y1="154.5" x2="755.5" y2="158.5" stroke="#000" stroke-width="1.1"/>
<line x1="757.5" y1="154.5" x2="757.5" y2="158.5" stroke="#000" stroke-width="1.1"/>
<line x1="760.5" y1="154.5" x2="760.5" y2="158.5" stroke="#000" stroke-width="1.1"/>
<line x1="763.5" y1="154.5" x2="763.5" y2="158.5" stroke="#000" stroke-width="1.1"/>
<line x1="765.5" y1="154.5" x2="765.5" y2="158.5" stroke="#000" stroke-width="1.1"/>
<line x1="722.5" y1="150" x2="722.5" y2="305" stroke="#000" stroke-width="1.1"/>
<line x1="718.5" y1="153.5" x2="725.5" y2="153.5" stroke="#000" stroke-width="0.9"/>
<line x1="718.5" y1="272.5" x2="725.5" y2="272.5" stroke="#000" stroke-width="0.9"/>
<line x1="718.5" y1="301.5" x2="725.5" y2="301.5" stroke="#000" stroke-width="0.9"/>
<text transform="translate(720 213) rotate(-90) scale(0.86 1)" font-size="4.4" text-anchor="middle" fill="#000" font-weight="bold">6.10</text>
<text transform="translate(720 287) rotate(-90) scale(0.86 1)" font-size="4.4" text-anchor="middle" fill="#000" font-weight="bold">1.50</text>
<line x1="733.5" y1="154" x2="733.5" y2="272" stroke="#000" stroke-width="1.6"/>
<line x1="733.5" y1="272" x2="733.5" y2="301.3" stroke="#000" stroke-width="1.0"/>
<line x1="768.5" y1="150" x2="768.5" y2="275" stroke="#000" stroke-width="1.1"/>
<line x1="764.9" y1="159.5" x2="771.9" y2="159.5" stroke="#000" stroke-width="0.9"/>
<line x1="764.9" y1="176.5" x2="771.9" y2="176.5" stroke="#000" stroke-width="0.9"/>
<line x1="764.9" y1="186.5" x2="771.9" y2="186.5" stroke="#000" stroke-width="0.9"/>
<line x1="764.9" y1="191.5" x2="771.9" y2="191.5" stroke="#000" stroke-width="0.9"/>
<line x1="764.9" y1="202.5" x2="771.9" y2="202.5" stroke="#000" stroke-width="0.9"/>
<line x1="764.9" y1="226.5" x2="771.9" y2="226.5" stroke="#000" stroke-width="0.9"/>
<line x1="764.9" y1="266.5" x2="771.9" y2="266.5" stroke="#000" stroke-width="0.9"/>
<line x1="764.9" y1="270.5" x2="771.9" y2="270.5" stroke="#000" stroke-width="0.9"/>
<text transform="translate(766.4 165) rotate(-90) scale(0.86 1)" font-size="4.4" text-anchor="middle" fill="#000" font-weight="bold">0.62</text>
<text transform="translate(766.4 181) rotate(-90) scale(0.86 1)" font-size="4.4" text-anchor="middle" fill="#000" font-weight="bold">0.60</text>
<text transform="translate(766.4 196) rotate(-90) scale(0.86 1)" font-size="4.4" text-anchor="middle" fill="#000" font-weight="bold">1.51</text>
<text transform="translate(766.4 248) rotate(-90) scale(0.86 1)" font-size="4.4" text-anchor="middle" fill="#000" font-weight="bold">2.30</text>
<text transform="translate(766.4 268) rotate(-90) scale(0.86 1)" font-size="4.4" text-anchor="middle" fill="#000" font-weight="bold">0.45</text>
<rect x="740.5" y="159.5" width="44" height="11" fill="none" stroke="#000" stroke-width="1.1" stroke-dasharray="2,1.3"/>
<rect x="740.5" y="176.5" width="44" height="10" fill="none" stroke="#000" stroke-width="1.1" stroke-dasharray="2,1.3"/>
<rect x="740.5" y="191.5" width="44" height="11" fill="none" stroke="#000" stroke-width="1.1" stroke-dasharray="2,1.3"/>
<rect x="740.5" y="208.5" width="44" height="10" fill="none" stroke="#000" stroke-width="1.1" stroke-dasharray="2,1.3"/>
<rect x="740.5" y="224.5" width="44" height="10" fill="none" stroke="#000" stroke-width="1.1" stroke-dasharray="2,1.3"/>
<rect x="740.5" y="240.5" width="44" height="10" fill="none" stroke="#000" stroke-width="1.1" stroke-dasharray="2,1.3"/>
<rect x="740.5" y="256.5" width="44" height="10" fill="none" stroke="#000" stroke-width="1.1" stroke-dasharray="2,1.3"/>
<text transform="translate(671.3 183.6) scale(0.85 1)" font-size="8.3" text-anchor="middle" fill="#111" font-weight="normal">1</text>
<polygon points="677.1,183.6 685.5,183.6 681.3,176.8" fill="#000" stroke="none" stroke-width="0.8"/>
<line x1="685" y1="180.5" x2="717.4" y2="180.5" stroke="#000" stroke-width="1.0" stroke-dasharray="2.2,1.8"/>
<text transform="translate(671.3 251) scale(0.85 1)" font-size="8.3" text-anchor="middle" fill="#111" font-weight="normal">2</text>
<polygon points="677.1,251 685.5,251 681.3,244.2" fill="#000" stroke="none" stroke-width="0.8"/>
<line x1="685" y1="248.5" x2="717.4" y2="248.5" stroke="#000" stroke-width="1.0" stroke-dasharray="2.2,1.8"/>
<rect x="768.5" y="154.5" width="97" height="5" fill="#c8c8c8" stroke="#000" stroke-width="0.9"/>
<rect x="865.5" y="154.5" width="20" height="5" fill="#fff" stroke="#000" stroke-width="0.9"/>
<line x1="866" y1="157.5" x2="885" y2="157.5" stroke="#1a1a7a" stroke-width="1.6"/>
<rect x="885.5" y="154.5" width="27" height="5" fill="#c8c8c8" stroke="#000" stroke-width="0.9"/>
<polygon points="900.8,100.6 908.6,100.6 918.3,159.5 910.5,159.5" fill="#c8c8c8" stroke="#000" stroke-width="0.9"/>
<rect x="784.5" y="154.5" width="7" height="117" fill="#c8c8c8" stroke="#000" stroke-width="0.9"/>
<rect x="786.5" y="177.5" width="5" height="11" fill="#fff" stroke="#000" stroke-width="0.6"/>
<line x1="789.5" y1="177.6" x2="789.5" y2="188.2" stroke="#1a1a7a" stroke-width="1.6"/>
<rect x="786.5" y="218.5" width="5" height="40" fill="#fff" stroke="#000" stroke-width="0.6"/>
<line x1="789.5" y1="218" x2="789.5" y2="258.8" stroke="#1a1a7a" stroke-width="1.6"/>
<rect x="784.5" y="266.5" width="285" height="5" fill="#fff" stroke="#000" stroke-width="0.9"/>
<rect x="784" y="266.4" width="66" height="5.2" fill="#c8c8c8" stroke="none" stroke-width="0.8"/>
<rect x="885.6" y="266.4" width="60.1" height="5.2" fill="#c8c8c8" stroke="none" stroke-width="0.8"/>
<rect x="987.5" y="266.4" width="28.5" height="5.2" fill="#c8c8c8" stroke="none" stroke-width="0.8"/>
<rect x="1057.8" y="266.4" width="11.2" height="5.2" fill="#c8c8c8" stroke="none" stroke-width="0.8"/>
<line x1="851" y1="268.5" x2="884.6" y2="268.5" stroke="#1a1a7a" stroke-width="1.8"/>
<line x1="867.5" y1="267" x2="867.5" y2="269.5" stroke="#555" stroke-width="0.8"/>
<line x1="946.7" y1="268.5" x2="986.5" y2="268.5" stroke="#1a1a7a" stroke-width="1.8"/>
<line x1="966.5" y1="267" x2="966.5" y2="269.5" stroke="#555" stroke-width="0.8"/>
<line x1="1017" y1="268.5" x2="1056.8" y2="268.5" stroke="#1a1a7a" stroke-width="1.8"/>
<line x1="1036.5" y1="267" x2="1036.5" y2="269.5" stroke="#555" stroke-width="0.8"/>
<line x1="784" y1="266.5" x2="1069" y2="266.5" stroke="#000" stroke-width="1.0"/>
<line x1="784" y1="271.5" x2="1069" y2="271.5" stroke="#000" stroke-width="1.2"/>
<rect x="1069.5" y="114.5" width="5" height="187" fill="#c8c8c8" stroke="#000" stroke-width="0.9"/>
<rect x="791.5" y="160.5" width="69" height="43" fill="none" stroke="#000" stroke-width="0.9"/>
<line x1="791.4" y1="172.5" x2="860.4" y2="172.5" stroke="#000" stroke-width="0.7"/>
<line x1="791.4" y1="180.5" x2="860.4" y2="180.5" stroke="#000" stroke-width="1.1"/>
<line x1="791.4" y1="192.5" x2="860.4" y2="192.5" stroke="#000" stroke-width="0.9"/>
<line x1="858.5" y1="160" x2="858.5" y2="203.6" stroke="#000" stroke-width="0.7"/>
<line x1="862.5" y1="160" x2="862.5" y2="205" stroke="#000" stroke-width="0.9"/>
<text transform="translate(848 165) scale(0.86 1)" font-size="3.4" text-anchor="middle" fill="#000" font-weight="bold">closet</text>
<text transform="translate(848 171) scale(0.86 1)" font-size="3.2" text-anchor="middle" fill="#000" font-weight="bold">7.62 m²</text>
<text transform="translate(825 176) scale(0.86 1)" font-size="3.8" text-anchor="middle" fill="#000" font-weight="bold">3.50</text>
<line x1="791.4" y1="206.5" x2="868.5" y2="206.5" stroke="#000" stroke-width="1.0"/>
<text transform="translate(879 167) scale(0.86 1)" font-size="3.2" text-anchor="middle" fill="#000" font-weight="bold">Hall. CIC.</text>
<text transform="translate(879 173) scale(0.86 1)" font-size="3.2" text-anchor="middle" fill="#000" font-weight="bold">6.99 m²</text>
<line x1="862" y1="180.5" x2="1075" y2="180.5" stroke="#000" stroke-width="0.9"/>
<text transform="translate(890 176) scale(0.86 1)" font-size="3.6" text-anchor="middle" fill="#000" font-weight="bold">2.77</text>
<text transform="translate(954 177) scale(0.86 1)" font-size="3.8" text-anchor="middle" fill="#000" font-weight="bold">2.95</text>
<line x1="982.5" y1="177" x2="982.5" y2="183" stroke="#000" stroke-width="0.9"/>
<line x1="987.5" y1="177" x2="987.5" y2="183" stroke="#000" stroke-width="0.9"/>
<line x1="997.5" y1="177" x2="997.5" y2="183" stroke="#000" stroke-width="0.9"/>
<line x1="1003.5" y1="177" x2="1003.5" y2="183" stroke="#000" stroke-width="0.9"/>
<line x1="1020.5" y1="177" x2="1020.5" y2="183" stroke="#000" stroke-width="0.9"/>
<line x1="1030.5" y1="177" x2="1030.5" y2="183" stroke="#000" stroke-width="0.9"/>
<line x1="1049.5" y1="177" x2="1049.5" y2="183" stroke="#000" stroke-width="0.9"/>
<text transform="translate(990 177) scale(0.86 1)" font-size="3.6" text-anchor="middle" fill="#000" font-weight="bold">0.80</text>
<text transform="translate(1001 177) scale(0.86 1)" font-size="3.6" text-anchor="middle" fill="#000" font-weight="bold">0.35</text>
<text transform="translate(1013 177) scale(0.86 1)" font-size="3.6" text-anchor="middle" fill="#000" font-weight="bold">0.80</text>
<text transform="translate(1031 177) scale(0.86 1)" font-size="3.6" text-anchor="middle" fill="#000" font-weight="bold">0.15</text>
<text transform="translate(1052 177) scale(0.86 1)" font-size="3.6" text-anchor="middle" fill="#000" font-weight="bold">1.80</text>
<text transform="translate(1025 171) scale(0.86 1)" font-size="3.4" text-anchor="middle" fill="#000" font-weight="bold">0.52</text>
<rect x="804.4" y="206.9" width="46.3" height="3.2" fill="#000" stroke="none" stroke-width="0.8"/>
<rect x="804.5" y="210.5" width="10" height="9" fill="none" stroke="#000" stroke-width="0.8"/>
<rect x="841.5" y="210.5" width="9" height="9" fill="none" stroke="#000" stroke-width="0.8"/>
<rect x="814.5" y="210.5" width="26" height="38" fill="none" stroke="#000" stroke-width="0.9"/>
<rect x="815.5" y="211.5" width="12" height="7" fill="none" stroke="#000" stroke-width="0.7"/>
<rect x="828.5" y="211.5" width="11" height="7" fill="none" stroke="#000" stroke-width="0.7"/>
<line x1="814.1" y1="228.5" x2="840.9" y2="228.5" stroke="#000" stroke-width="0.8"/>
<line x1="814.1" y1="237.5" x2="840.9" y2="237.5" stroke="#000" stroke-width="0.8"/>
<text transform="translate(870 222) scale(0.86 1)" font-size="3.4" text-anchor="middle" fill="#000" font-weight="bold">suite</text>
<text transform="translate(870 228) scale(0.86 1)" font-size="3.2" text-anchor="middle" fill="#000" font-weight="bold">14.70 m²</text>
<text transform="translate(838.5 254) scale(0.86 1)" font-size="3.8" text-anchor="middle" fill="#000" font-weight="bold">4.85</text>
<text transform="translate(877 254) scale(0.86 1)" font-size="3.6" text-anchor="middle" fill="#000" font-weight="bold">0.15</text>
<line x1="791" y1="257.5" x2="1069" y2="257.5" stroke="#000" stroke-width="0.9"/>
<text transform="translate(797 245) rotate(-90) scale(0.86 1)" font-size="3.4" text-anchor="middle" fill="#000" font-weight="bold">3.35</text>
<path d="M868 206 Q872 215 874 218" fill="none" stroke="#000" stroke-width="0.7" stroke-dasharray="1.5,1"/>
<line x1="874" y1="218" x2="885" y2="204" stroke="#000" stroke-width="1.0"/>
<circle cx="873.5" cy="215.5" r="1.5" fill="#000"/>
<line x1="885.5" y1="196" x2="885.5" y2="266" stroke="#000" stroke-width="0.9"/>
<rect x="887.5" y="195.5" width="43" height="71" fill="none" stroke="#000" stroke-width="0.9"/>
<rect x="890.5" y="210.5" width="7" height="34" fill="none" stroke="#000" stroke-width="0.8"/>
<rect x="891.5" y="211.5" width="6" height="8" fill="none" stroke="#000" stroke-width="0.6"/>
<rect x="891.5" y="233.5" width="6" height="8" fill="none" stroke="#000" stroke-width="0.6"/>
<circle cx="912.4" cy="223.9" r="14.6" fill="none" stroke="#000" stroke-width="0.8" stroke-dasharray="1.6,1.4"/>
<rect x="918.5" y="205.5" width="9" height="7" fill="none" stroke="#000" stroke-width="0.8" rx="2"/>
<rect x="918.5" y="234.5" width="9" height="7" fill="none" stroke="#000" stroke-width="0.8" rx="2"/>
<line x1="887" y1="250.5" x2="930" y2="250.5" stroke="#000" stroke-width="0.8"/>
<text transform="translate(897 254) scale(0.86 1)" font-size="3.2" text-anchor="middle" fill="#888" font-weight="bold">Duche</text>
<text transform="translate(915 254) scale(0.86 1)" font-size="3.8" text-anchor="middle" fill="#000" font-weight="bold">2.10</text>
<text transform="translate(905 262) scale(0.86 1)" font-size="3" text-anchor="middle" fill="#999" font-weight="bold">espaço para conversa</text>
<text transform="translate(912 222) scale(0.86 1)" font-size="3" text-anchor="middle" fill="#000" font-weight="bold">I.S.</text>
<text transform="translate(912 228) scale(0.86 1)" font-size="3" text-anchor="middle" fill="#000" font-weight="bold">7.77 m²</text>
<line x1="889" y1="192" x2="936" y2="187" stroke="#000" stroke-width="1.0"/>
<line x1="889.5" y1="192" x2="889.5" y2="196" stroke="#000" stroke-width="0.8"/>
<circle cx="908" cy="187" r="1.5" fill="#000"/><circle cx="907" cy="199" r="1.5" fill="#000"/>
<line x1="903" y1="178" x2="908" y2="187" stroke="#000" stroke-width="1"/>
<line x1="907" y1="199" x2="913" y2="190" stroke="#000" stroke-width="1"/>
<line x1="924.5" y1="176" x2="924.5" y2="188" stroke="#000" stroke-width="0.8"/>
<line x1="928.5" y1="176" x2="928.5" y2="188" stroke="#000" stroke-width="0.8"/>
<line x1="917" y1="160.5" x2="1069" y2="160.5" stroke="#000" stroke-width="1.1"/>
<line x1="930" y1="188.5" x2="1069" y2="188.5" stroke="#000" stroke-width="0.9"/>
<line x1="932.5" y1="188" x2="932.5" y2="266" stroke="#000" stroke-width="1.0"/>
<rect x="934.5" y="192.5" width="42" height="10" fill="none" stroke="#000" stroke-width="0.8"/>
<text transform="translate(955 199) scale(0.86 1)" font-size="3.4" text-anchor="middle" fill="#000" font-weight="bold">Roupeiro</text>
<rect x="935.5" y="217.5" width="37" height="29" fill="none" stroke="#000" stroke-width="0.9"/>
<line x1="942.5" y1="217.5" x2="942.5" y2="246.2" stroke="#000" stroke-width="0.7"/>
<line x1="950.5" y1="217.5" x2="950.5" y2="246.2" stroke="#000" stroke-width="0.7"/>
<text transform="translate(989 209) scale(0.86 1)" font-size="3.2" text-anchor="middle" fill="#000" font-weight="bold">Quarto</text>
<text transform="translate(989 215) scale(0.86 1)" font-size="3.2" text-anchor="middle" fill="#000" font-weight="bold">12.60 m²</text>
<circle cx="987.5" cy="200" r="1.6" fill="#000"/>
<line x1="987.5" y1="200" x2="997" y2="190" stroke="#000" stroke-width="1"/>
<path d="M980 189 Q981 198 987.5 200" fill="none" stroke="#000" stroke-width="0.7" stroke-dasharray="1.5,1"/>
<line x1="1000.5" y1="188" x2="1000.5" y2="266" stroke="#000" stroke-width="0.9"/>
<line x1="1002.5" y1="188" x2="1002.5" y2="266" stroke="#000" stroke-width="0.9"/>
<rect x="988.5" y="239.5" width="12" height="27" fill="none" stroke="#000" stroke-width="0.8"/>
<rect x="1003.5" y="239.5" width="12" height="27" fill="none" stroke="#000" stroke-width="0.8"/>
<circle cx="980" cy="259" r="4" fill="#fff" stroke="#000" stroke-width="0.8"/>
<circle cx="1023" cy="259" r="4" fill="#fff" stroke="#000" stroke-width="0.8"/>
<line x1="993.5" y1="255" x2="993.5" y2="262" stroke="#000" stroke-width="1.8"/>
<line x1="1010.5" y1="255" x2="1010.5" y2="262" stroke="#000" stroke-width="1.8"/>
<line x1="990" y1="258.5" x2="1013" y2="258.5" stroke="#000" stroke-width="0.8"/>
<text transform="translate(939 253) scale(0.86 1)" font-size="3.6" text-anchor="middle" fill="#000" font-weight="bold">0.20</text>
<text transform="translate(966 253) scale(0.86 1)" font-size="3.6" text-anchor="middle" fill="#000" font-weight="bold">3.38</text>
<text transform="translate(1036 253) scale(0.86 1)" font-size="3.6" text-anchor="middle" fill="#000" font-weight="bold">3.38</text>
<circle cx="1015" cy="200" r="1.5" fill="#000"/>
<line x1="1015" y1="200" x2="1006" y2="190" stroke="#000" stroke-width="1"/>
<path d="M1022 189 Q1021 198 1015 200" fill="none" stroke="#000" stroke-width="0.7" stroke-dasharray="1.5,1"/>
<rect x="1026.5" y="192.5" width="40" height="10" fill="none" stroke="#000" stroke-width="0.8"/>
<text transform="translate(1038 199) scale(0.86 1)" font-size="3.4" text-anchor="middle" fill="#000" font-weight="bold">Roupeiro</text>
<text transform="translate(1055 210) scale(0.86 1)" font-size="3.2" text-anchor="middle" fill="#000" font-weight="bold">Quarto</text>
<text transform="translate(1055 216) scale(0.86 1)" font-size="3.2" text-anchor="middle" fill="#000" font-weight="bold">12.60 m²</text>
<rect x="1030.5" y="219.5" width="26" height="29" fill="none" stroke="#000" stroke-width="0.9"/>
<rect x="1056.5" y="219.5" width="11" height="29" fill="none" stroke="#000" stroke-width="0.8"/>
<line x1="1060.5" y1="219.5" x2="1060.5" y2="248" stroke="#000" stroke-width="0.7"/>
<line x1="1066.5" y1="188" x2="1066.5" y2="266" stroke="#000" stroke-width="0.8"/>
<polygon points="979,94.3 1037,94.3 1037,118.8 1069,118.8 1069,114.5 1031.5,114.5 1031.5,102.3 985.8,102.3 985.8,160 979,160" fill="#c8c8c8" stroke="#000" stroke-width="0.8"/>
<rect x="985.8" y="102.3" width="44" height="2.5" fill="#000" stroke="none" stroke-width="0.8"/>
<rect x="1018.5" y="94.5" width="12" height="8" fill="#fff" stroke="#000" stroke-width="0.8"/>
<line x1="1019" y1="96.5" x2="1029" y2="96.5" stroke="#1a1a7a" stroke-width="1.5"/>
<line x1="985.5" y1="102.3" x2="985.5" y2="160" stroke="#000" stroke-width="1.2"/>
<line x1="1030.5" y1="102.3" x2="1030.5" y2="163" stroke="#000" stroke-width="1.2"/>
<line x1="1006.5" y1="104" x2="1006.5" y2="160" stroke="#000" stroke-width="0.9"/>
<line x1="1010.5" y1="104" x2="1010.5" y2="160" stroke="#000" stroke-width="0.9"/>
<line x1="986" y1="104" x2="1006" y2="126" stroke="#000" stroke-width="0.8"/>
<line x1="1030" y1="104" x2="1010" y2="126" stroke="#000" stroke-width="0.8"/>
<line x1="986" y1="126.5" x2="1005" y2="126.5" stroke="#000" stroke-width="0.8"/>
<line x1="1011" y1="126.5" x2="1030" y2="126.5" stroke="#000" stroke-width="0.8"/>
<line x1="986" y1="133.5" x2="1005" y2="133.5" stroke="#000" stroke-width="0.8"/>
<line x1="1011" y1="133.5" x2="1030" y2="133.5" stroke="#000" stroke-width="0.8"/>
<line x1="986" y1="141.5" x2="1005" y2="141.5" stroke="#000" stroke-width="0.8"/>
<line x1="1011" y1="141.5" x2="1030" y2="141.5" stroke="#000" stroke-width="0.8"/>
<line x1="986" y1="148.5" x2="1005" y2="148.5" stroke="#000" stroke-width="0.8"/>
<line x1="1011" y1="148.5" x2="1030" y2="148.5" stroke="#000" stroke-width="0.8"/>
<line x1="986" y1="156.5" x2="1005" y2="156.5" stroke="#000" stroke-width="0.8"/>
<line x1="1011" y1="156.5" x2="1030" y2="156.5" stroke="#000" stroke-width="0.8"/>
<line x1="996.5" y1="104" x2="996.5" y2="160" stroke="#000" stroke-width="0.6"/>
<line x1="1020.5" y1="104" x2="1020.5" y2="160" stroke="#000" stroke-width="0.6"/>
<text transform="translate(996 145) scale(0.86 1)" font-size="3.2" text-anchor="middle" fill="#000" font-weight="bold">1.00</text>
<line x1="1037" y1="91.5" x2="1099" y2="91.5" stroke="#000" stroke-width="1.0"/>
<line x1="1037.5" y1="91.5" x2="1037.5" y2="114.5" stroke="#000" stroke-width="1.0"/>
<line x1="1099.5" y1="91.5" x2="1099.5" y2="301.5" stroke="#000" stroke-width="1.0"/>
<rect x="1037.5" y="118.5" width="32" height="45" fill="none" stroke="#000" stroke-width="0.8"/>
<rect x="1053.5" y="127.5" width="10" height="8" fill="none" stroke="#000" stroke-width="0.7"/>
<rect x="1055.5" y="142.5" width="9" height="7" fill="none" stroke="#000" stroke-width="0.7"/>
<rect x="1055.5" y="152.5" width="8" height="8" fill="none" stroke="#000" stroke-width="0.7"/>
<text transform="translate(1045 131) scale(0.86 1)" font-size="3" text-anchor="middle" fill="#888" font-weight="bold">Duche</text>
<text transform="translate(1048 145) scale(0.86 1)" font-size="3" text-anchor="middle" fill="#000" font-weight="bold">I.S.</text>
<text transform="translate(1050 151) scale(0.86 1)" font-size="3.2" text-anchor="middle" fill="#000" font-weight="bold">4.12 m²</text>
<line x1="1020" y1="164" x2="1031" y2="172" stroke="#000" stroke-width="1.0"/>
<circle cx="1031" cy="172" r="1.5" fill="#000"/>
<line x1="1076" y1="199.5" x2="1099" y2="199.5" stroke="#000" stroke-width="0.9"/>
<line x1="1076.5" y1="199.4" x2="1076.5" y2="301.5" stroke="#000" stroke-width="0.9"/>
<rect x="1062.5" y="170.5" width="7" height="13" fill="none" stroke="#000" stroke-width="0.7"/>
<line x1="910" y1="107.5" x2="946" y2="103" stroke="#000" stroke-width="1.0"/>
<polygon points="944,102 958,99.5 961,110.5 947,113" fill="#fff" stroke="#000" stroke-width="1"/>
<line x1="912" y1="119.4" x2="961" y2="111" stroke="#000" stroke-width="1.0"/>
<line x1="913.75" y1="125.6" x2="980" y2="114.4" stroke="#000" stroke-width="0.9"/>
<line x1="913.15" y1="122.6" x2="914.35" y2="128.6" stroke="#000" stroke-width="0.9"/>
<line x1="928.15" y1="120.06" x2="929.35" y2="126.06" stroke="#000" stroke-width="0.9"/>
<line x1="961.3" y1="114.46" x2="962.5" y2="120.46" stroke="#000" stroke-width="0.9"/>
<line x1="979.4" y1="111.4" x2="980.6" y2="117.4" stroke="#000" stroke-width="0.9"/>
<text transform="translate(921 122) scale(0.86 1)" font-size="3.4" text-anchor="middle" fill="#000" font-weight="bold">0.60</text>
<text transform="translate(945 118.5) scale(0.86 1)" font-size="3.6" text-anchor="middle" fill="#000" font-weight="bold">1.70</text>
<text transform="translate(969 114.5) scale(0.86 1)" font-size="3.4" text-anchor="middle" fill="#000" font-weight="bold">0.60</text>
<polygon points="931.25,134.2 963,127.9 963.5,132.4 931.75,138.7" fill="#c8c8c8" stroke="#000" stroke-width="0.9"/>
<line x1="916.9" y1="139.4" x2="931" y2="136.6" stroke="#1a1a7a" stroke-width="1.4"/>
<line x1="963" y1="130.5" x2="978.75" y2="127.5" stroke="#1a1a7a" stroke-width="1.4"/>
<line x1="978.75" y1="127.5" x2="985" y2="126.3" stroke="#000" stroke-width="0.9"/>
<text transform="translate(952.5 147.5) scale(0.86 1)" font-size="3.4" text-anchor="middle" fill="#999" font-weight="bold">vazio</text>
<line x1="912" y1="160.5" x2="986" y2="160.5" stroke="#000" stroke-width="1.1"/>
<line x1="972.5" y1="97.5" x2="980.5" y2="97.5" stroke="#000" stroke-width="0.8"/>
<line x1="972.5" y1="97" x2="979.81" y2="100.25" stroke="#000" stroke-width="0.8"/>
<line x1="972.5" y1="97" x2="977.85" y2="102.95" stroke="#000" stroke-width="0.8"/>
<line x1="972.5" y1="97" x2="974.97" y2="104.61" stroke="#000" stroke-width="0.8"/>
<line x1="972.5" y1="97" x2="971.66" y2="104.96" stroke="#000" stroke-width="0.8"/>
<line x1="972.5" y1="97" x2="968.5" y2="103.93" stroke="#000" stroke-width="0.8"/>
<line x1="972.5" y1="97" x2="966.03" y2="101.7" stroke="#000" stroke-width="0.8"/>
<line x1="972.5" y1="97" x2="964.67" y2="98.66" stroke="#000" stroke-width="0.8"/>
<line x1="972.5" y1="97" x2="964.67" y2="95.34" stroke="#000" stroke-width="0.8"/>
<line x1="972.5" y1="97" x2="966.03" y2="92.3" stroke="#000" stroke-width="0.8"/>
<line x1="972.5" y1="97" x2="968.5" y2="90.07" stroke="#000" stroke-width="0.8"/>
<line x1="972.5" y1="97" x2="971.66" y2="89.04" stroke="#000" stroke-width="0.8"/>
<line x1="972.5" y1="97" x2="974.97" y2="89.39" stroke="#000" stroke-width="0.8"/>
<line x1="972.5" y1="97" x2="977.85" y2="91.05" stroke="#000" stroke-width="0.8"/>
<line x1="972.5" y1="97" x2="979.81" y2="93.75" stroke="#000" stroke-width="0.8"/>
<path d="M962 112 C966 104 970 102 973 105 C975 110 970 114 962 112 Z" fill="none" stroke="#000" stroke-width="0.8"/>
<text transform="translate(976 167) scale(0.86 1)" font-size="3.4" text-anchor="middle" fill="#000" font-weight="bold">Circulação</text>
<text transform="translate(976 173) scale(0.86 1)" font-size="3.2" text-anchor="middle" fill="#000" font-weight="bold">14.70 m²</text>
<line x1="1112.5" y1="91.5" x2="1112.5" y2="305.8" stroke="#000" stroke-width="1.1"/>
<line x1="1109.1" y1="93.5" x2="1116.1" y2="93.5" stroke="#000" stroke-width="0.9"/>
<line x1="1109.1" y1="114.5" x2="1116.1" y2="114.5" stroke="#000" stroke-width="0.9"/>
<line x1="1109.1" y1="302.5" x2="1116.1" y2="302.5" stroke="#000" stroke-width="0.9"/>
<text transform="translate(1110.6 104) rotate(-90) scale(0.86 1)" font-size="4.4" text-anchor="middle" fill="#000" font-weight="bold">1.02</text>
<text transform="translate(1110.6 210) rotate(-90) scale(0.86 1)" font-size="4.4" text-anchor="middle" fill="#000" font-weight="bold">8.9</text>
<line x1="1126.5" y1="91.5" x2="1126.5" y2="305.8" stroke="#000" stroke-width="1.1"/>
<line x1="1122.9" y1="93.5" x2="1129.9" y2="93.5" stroke="#000" stroke-width="0.9"/>
<line x1="1122.9" y1="302.5" x2="1129.9" y2="302.5" stroke="#000" stroke-width="0.9"/>
<text transform="translate(1124.4 212) rotate(-90) scale(0.86 1)" font-size="4.4" text-anchor="middle" fill="#000" font-weight="bold">10.90</text>
<text transform="translate(1160 183.7) scale(0.85 1)" font-size="8.3" text-anchor="middle" fill="#111" font-weight="normal">1</text>
<polygon points="1146.8,183.7 1155.2,183.7 1151,176.9" fill="#000" stroke="none" stroke-width="0.8"/>
<line x1="1131" y1="180.5" x2="1145" y2="180.5" stroke="#000" stroke-width="1.0" stroke-dasharray="2.2,1.8"/>
<text transform="translate(1160 251) scale(0.85 1)" font-size="8.3" text-anchor="middle" fill="#111" font-weight="normal">2</text>
<polygon points="1146.8,251 1155.2,251 1151,244.2" fill="#000" stroke="none" stroke-width="0.8"/>
<line x1="1131" y1="248.5" x2="1145" y2="248.5" stroke="#000" stroke-width="1.0" stroke-dasharray="2.2,1.8"/>
<line x1="1161" y1="238.5" x2="1167" y2="238.5" stroke="#000" stroke-width="0.9"/>
<line x1="779.7" y1="287.5" x2="1080" y2="287.5" stroke="#000" stroke-width="1.2"/>
<line x1="784.5" y1="284.2" x2="784.5" y2="291.2" stroke="#000" stroke-width="0.9"/>
<line x1="850.5" y1="284.2" x2="850.5" y2="291.2" stroke="#000" stroke-width="0.9"/>
<line x1="886.5" y1="284.2" x2="886.5" y2="291.2" stroke="#000" stroke-width="0.9"/>
<line x1="944.5" y1="284.2" x2="944.5" y2="291.2" stroke="#000" stroke-width="0.9"/>
<line x1="988.5" y1="284.2" x2="988.5" y2="291.2" stroke="#000" stroke-width="0.9"/>
<line x1="1015.5" y1="284.2" x2="1015.5" y2="291.2" stroke="#000" stroke-width="0.9"/>
<line x1="1057.5" y1="284.2" x2="1057.5" y2="291.2" stroke="#000" stroke-width="0.9"/>
<text transform="translate(817 285.5) scale(0.86 1)" font-size="4.4" text-anchor="middle" fill="#000" font-weight="bold">3.40</text>
<text transform="translate(868 285.5) scale(0.86 1)" font-size="4.4" text-anchor="middle" fill="#000" font-weight="bold">1.90</text>
<text transform="translate(915 285.5) scale(0.86 1)" font-size="4.4" text-anchor="middle" fill="#000" font-weight="bold">3.05</text>
<text transform="translate(966 285.5) scale(0.86 1)" font-size="4.4" text-anchor="middle" fill="#000" font-weight="bold">2.20</text>
<text transform="translate(1001 285.5) scale(0.86 1)" font-size="4.4" text-anchor="middle" fill="#000" font-weight="bold">1.35</text>
<text transform="translate(1036 285.5) scale(0.86 1)" font-size="4.4" text-anchor="middle" fill="#000" font-weight="bold">2.20</text>
<text transform="translate(1063 285.5) scale(0.86 1)" font-size="4.4" text-anchor="middle" fill="#000" font-weight="bold">0.58</text>
<line x1="1075.5" y1="272" x2="1075.5" y2="301.5" stroke="#000" stroke-width="0.9"/>
<line x1="731.7" y1="301.5" x2="1098.7" y2="301.5" stroke="#000" stroke-width="1.1"/>
<line x1="727" y1="312.5" x2="1079" y2="312.5" stroke="#000" stroke-width="1.2"/>
<line x1="784.5" y1="308.5" x2="784.5" y2="315.5" stroke="#000" stroke-width="0.9"/>
<line x1="1068.5" y1="308.5" x2="1068.5" y2="315.5" stroke="#000" stroke-width="0.9"/>
<text transform="translate(758 309.8) scale(0.86 1)" font-size="4.4" text-anchor="middle" fill="#000" font-weight="bold">2.05</text>
<text transform="translate(926 309.8) scale(0.86 1)" font-size="4.4" text-anchor="middle" fill="#000" font-weight="bold">14.55</text>
<text transform="translate(1072 309.8) scale(0.86 1)" font-size="4.4" text-anchor="middle" fill="#000" font-weight="bold">0.35</text>
<line x1="727" y1="322.5" x2="1079" y2="322.5" stroke="#000" stroke-width="1.2"/>
<line x1="732.5" y1="318.5" x2="732.5" y2="325.5" stroke="#000" stroke-width="0.9"/>
<line x1="1075.5" y1="318.5" x2="1075.5" y2="325.5" stroke="#000" stroke-width="0.9"/>
<text transform="translate(903 319.8) scale(0.86 1)" font-size="4.4" text-anchor="middle" fill="#000" font-weight="bold">17.55</text>
<line x1="952.5" y1="302" x2="952.5" y2="361" stroke="#777" stroke-width="0.7"/>
<line x1="973.5" y1="290" x2="973.5" y2="330" stroke="#000" stroke-width="1.3" stroke-dasharray="1.6,1.2"/>
<polygon points="969.9,335 977.1,331.2 977.1,338.8" fill="#000" stroke="none" stroke-width="0.8"/>
<text transform="translate(973.6 348) scale(0.85 1)" font-size="8.3" text-anchor="middle" fill="#111" font-weight="normal">1</text>
<line x1="1025.5" y1="290" x2="1025.5" y2="330" stroke="#000" stroke-width="1.3" stroke-dasharray="1.6,1.2"/>
<polygon points="1021.3,335 1028.5,331.2 1028.5,338.8" fill="#000" stroke="none" stroke-width="0.8"/>
<text transform="translate(1025 348) scale(0.85 1)" font-size="8.3" text-anchor="middle" fill="#111" font-weight="normal">2</text>
<text transform="translate(677.4 358) scale(0.9 1)" font-size="7.3" text-anchor="start" fill="#111" font-weight="normal">Planta Piso 1</text>
<rect x="57" y="396.8" width="563.6" height="322.2" fill="url(#hl)"/>
<polygon points="549.4,578.1 605,596.25 607,578 620.6,580 625,580 625,760 398,760 398,635 549.4,635" fill="#fff" stroke="none" stroke-width="0.8"/>
<polygon points="68,681 218.5,530.5 218.5,635 398,635 398,748.4 72.7,748.4 72.7,681" fill="url(#hd)"/>
<polygon points="57,708 67.5,697 67.5,719 57,719" fill="url(#hd)"/>
<polygon points="346,516.5 362.5,498 362.5,516.5" fill="url(#hd)"/>
<polygon points="399.5,489.5 429.9,459.8 429.9,487" fill="url(#hd)"/>
<polygon points="566.25,582.5 605.6,542.5 605.6,596.25" fill="url(#hd)"/>
<defs><clipPath id="hclip"><rect x="57" y="396.8" width="563.6" height="322.2"/></clipPath></defs>
<g fill="none" stroke="#ffffff" stroke-width="2.6" stroke-linejoin="round" stroke-linecap="round" opacity="0.55" clip-path="url(#hclip)">
<path d="M598 538 C545 505 462 440 461 358 C460 285 520 240.5 585 240.5 C650 240.5 706 287 706 360 C706 440 648 505 598 538 Z"/>
<path d="M464 330 C495 300 550 287 585 286.5 C625 286.5 668 296 698 328"/>
<path d="M467 398 C505 384 550 374.5 585 374.5 C620 374.5 660 382 703 395"/>
<path d="M585 241 C566 256 556 275 554.5 292"/>
<path d="M603 244 C610 260 614 276 614.6 292.5"/>
<path d="M530 256 C508 268 496 283 490 303"/>
<path d="M645 259 C656 274 661 290 663 306"/>
<path d="M548.8 384 C551 440 572 500 598 538"/>
<path d="M620.4 384 C620 440 612 500 598 538"/>
<path d="M490 392 C505 450 555 505 598 538"/>
<path d="M675 390 C665 450 635 505 598 538"/>
<path d="M471 330 C488 288 528 258 572 246"/>
<path d="M696 330 C681 290 646 260 600 246"/>
<circle cx="617.8" cy="546.4" r="5"/>
</g>
<line x1="549.4" y1="578.1" x2="605" y2="596.25" stroke="#000" stroke-width="0.9"/>
<line x1="609" y1="578" x2="620.6" y2="580" stroke="#000" stroke-width="0.9"/>
<rect x="57" y="719.2" width="10.5" height="45" fill="#fff" stroke="none" stroke-width="0.8"/>
<line x1="57" y1="719.5" x2="67.5" y2="719.5" stroke="#000" stroke-width="0.9"/>
<path d="M218.5 516 L362.5 516 L362.5 497.7 L429.9 487.2 L429.9 459.8 L488.4 459.8 L488.4 477.8 L549.6 477.8 L549.6 635 L218.5 635 Z M225.5 522.5 L368.75 522.5 L368.75 503.7 L435.3 493.5 L435.3 465.2 L482 465.2 L482 483.2 L544.2 483.2 L544.2 628.5 L225.5 628.5 Z" fill="#c8c8c8" fill-rule="evenodd" stroke="#000" stroke-width="1"/>
<path d="M225.5 522.5 L368.75 522.5 L368.75 503.7 L435.3 493.5 L435.3 465.2 L482 465.2 L482 483.2 L544.2 483.2 L544.2 628.5 L225.5 628.5 Z" fill="#fff" stroke="none"/>
<path d="M225.5 522.5 L368.75 522.5 L368.75 503.7 L435.3 493.5 L435.3 465.2 L482 465.2 L482 483.2 L544.2 483.2 L544.2 628.5 L225.5 628.5 Z" fill="none" stroke="#000" stroke-width="1.1"/>
<rect x="402.5" y="628.5" width="79" height="6" fill="#fff" stroke="#000" stroke-width="0.9"/>
<rect x="495.5" y="628.5" width="49" height="6" fill="#fff" stroke="#000" stroke-width="0.9"/>
<line x1="496" y1="632.5" x2="543" y2="632.5" stroke="#1a1a7a" stroke-width="1.8"/>
<g transform="rotate(0 314.4 551.3)"><rect x="268.9" y="533.3" width="91" height="36" rx="10.08" fill="#8a8a8a" stroke="#666" stroke-width="0.6" stroke-dasharray="1,0.8"/><rect x="279.82" y="531.8" width="18.2" height="4" rx="2" fill="#8a8a8a"/><rect x="332.6" y="531.8" width="18.2" height="4" rx="2" fill="#8a8a8a"/><rect x="279.82" y="566.8" width="18.2" height="4" rx="2" fill="#8a8a8a"/><rect x="332.6" y="566.8" width="18.2" height="4" rx="2" fill="#8a8a8a"/></g>
<g transform="rotate(0 280.5 597.4)"><rect x="235" y="579.4" width="91" height="36" rx="10.08" fill="#8a8a8a" stroke="#666" stroke-width="0.6" stroke-dasharray="1,0.8"/><rect x="245.92" y="577.9" width="18.2" height="4" rx="2" fill="#8a8a8a"/><rect x="298.7" y="577.9" width="18.2" height="4" rx="2" fill="#8a8a8a"/><rect x="245.92" y="612.9" width="18.2" height="4" rx="2" fill="#8a8a8a"/><rect x="298.7" y="612.9" width="18.2" height="4" rx="2" fill="#8a8a8a"/></g>
<g transform="rotate(74 409.5 553)"><rect x="366.5" y="536" width="86" height="34" rx="9.52" fill="#8a8a8a" stroke="#666" stroke-width="0.6" stroke-dasharray="1,0.8"/><rect x="376.82" y="534.5" width="17.2" height="4" rx="2" fill="#8a8a8a"/><rect x="426.7" y="534.5" width="17.2" height="4" rx="2" fill="#8a8a8a"/><rect x="376.82" y="567.5" width="17.2" height="4" rx="2" fill="#8a8a8a"/><rect x="426.7" y="567.5" width="17.2" height="4" rx="2" fill="#8a8a8a"/></g>
<line x1="225.5" y1="536.5" x2="433.5" y2="536.5" stroke="#000" stroke-width="1.0"/>
<text transform="translate(311 534) scale(0.86 1)" font-size="4" text-anchor="middle" fill="#000" font-weight="bold">7.30</text>
<text transform="translate(400 534.5) scale(0.86 1)" font-size="4" text-anchor="middle" fill="#000" font-weight="bold">3.30</text>
<line x1="225.5" y1="575.5" x2="367.5" y2="575.5" stroke="#000" stroke-width="1.1" stroke-dasharray="2,1.5"/>
<line x1="368.5" y1="522.5" x2="368.5" y2="628.5" stroke="#000" stroke-width="0.9" stroke-dasharray="2,1.5"/>
<line x1="380.5" y1="498" x2="380.5" y2="635" stroke="#000" stroke-width="0.9"/>
<line x1="225.5" y1="617.5" x2="549" y2="617.5" stroke="#000" stroke-width="1.0"/>
<text transform="translate(335 615) scale(0.86 1)" font-size="3.8" text-anchor="middle" fill="#000" font-weight="bold">9.05</text>
<text transform="translate(440 615) scale(0.86 1)" font-size="3.8" text-anchor="middle" fill="#000" font-weight="bold">4.00</text>
<text transform="translate(520 615) scale(0.86 1)" font-size="3.8" text-anchor="middle" fill="#000" font-weight="bold">3.15</text>
<line x1="402.5" y1="612" x2="402.5" y2="623" stroke="#000" stroke-width="0.8"/>
<line x1="481.5" y1="612" x2="481.5" y2="623" stroke="#000" stroke-width="0.8"/>
<text transform="translate(375 570) rotate(-90) scale(0.86 1)" font-size="3.6" text-anchor="middle" fill="#000" font-weight="bold">5.40</text>
<text transform="translate(386 516) rotate(-90) scale(0.86 1)" font-size="3.4" text-anchor="middle" fill="#000" font-weight="bold">1.15</text>
<line x1="383" y1="508.5" x2="392" y2="508.5" stroke="#000" stroke-width="0.8"/>
<line x1="383" y1="525.5" x2="392" y2="525.5" stroke="#000" stroke-width="0.8"/>
<path d="M414 495 Q429 505 430 515" fill="none" stroke="#000" stroke-width="0.7"/>
<line x1="414" y1="495" x2="430" y2="515" stroke="#000" stroke-width="0.6"/>
<text transform="translate(425 504) rotate(40) scale(0.86 1)" font-size="3" text-anchor="middle" fill="#000" font-weight="bold">16.4%</text>
<line x1="430.3" y1="478.5" x2="487.4" y2="478.5" stroke="#000" stroke-width="1.1"/>
<text transform="translate(458 476) scale(0.86 1)" font-size="3.8" text-anchor="middle" fill="#000" font-weight="bold">2.30</text>
<line x1="437" y1="467" x2="455" y2="488" stroke="#000" stroke-width="0.8" stroke-dasharray="2,1.5"/>
<line x1="481" y1="467" x2="462" y2="488" stroke="#000" stroke-width="0.8" stroke-dasharray="2,1.5"/>
<text transform="translate(456 471.5) scale(0.86 1)" font-size="3.6" text-anchor="middle" fill="#000" font-weight="bold">1</text>
<line x1="459.5" y1="467" x2="459.5" y2="474" stroke="#000" stroke-width="0.8"/>
<line x1="436.5" y1="488.5" x2="481" y2="488.5" stroke="#000" stroke-width="0.9" stroke-dasharray="2.2,1.4"/>
<line x1="456.5" y1="488.5" x2="456.5" y2="522.5" stroke="#000" stroke-width="0.9" stroke-dasharray="2.2,1.4"/>
<line x1="462.5" y1="488.5" x2="462.5" y2="522.5" stroke="#000" stroke-width="0.9"/>
<line x1="437.5" y1="490.5" x2="456" y2="490.5" stroke="#000" stroke-width="0.9" stroke-dasharray="3,1"/>
<text transform="translate(441 493.2) scale(0.86 1)" font-size="2.8" text-anchor="middle" fill="#000" font-weight="bold">11</text>
<line x1="437.5" y1="496.5" x2="456" y2="496.5" stroke="#000" stroke-width="0.9" stroke-dasharray="3,1"/>
<text transform="translate(441 499.4) scale(0.86 1)" font-size="2.8" text-anchor="middle" fill="#000" font-weight="bold">12</text>
<line x1="437.5" y1="502.5" x2="456" y2="502.5" stroke="#000" stroke-width="0.9" stroke-dasharray="3,1"/>
<text transform="translate(441 505.1) scale(0.86 1)" font-size="2.8" text-anchor="middle" fill="#000" font-weight="bold">13</text>
<line x1="437.5" y1="508.5" x2="456" y2="508.5" stroke="#000" stroke-width="0.9" stroke-dasharray="3,1"/>
<text transform="translate(441 511.1) scale(0.86 1)" font-size="2.8" text-anchor="middle" fill="#000" font-weight="bold">14</text>
<line x1="437.5" y1="514.5" x2="456" y2="514.5" stroke="#000" stroke-width="0.9" stroke-dasharray="3,1"/>
<text transform="translate(441 517.2) scale(0.86 1)" font-size="2.8" text-anchor="middle" fill="#000" font-weight="bold">15</text>
<line x1="437.5" y1="520.5" x2="456" y2="520.5" stroke="#000" stroke-width="0.9" stroke-dasharray="3,1"/>
<text transform="translate(441 522.8) scale(0.86 1)" font-size="2.8" text-anchor="middle" fill="#000" font-weight="bold">16</text>
<line x1="462" y1="494.5" x2="481" y2="494.5" stroke="#000" stroke-width="1.0"/>
<line x1="462" y1="499.5" x2="481" y2="499.5" stroke="#000" stroke-width="1.0"/>
<line x1="462" y1="505.5" x2="481" y2="505.5" stroke="#000" stroke-width="1.0"/>
<line x1="462" y1="511.5" x2="481" y2="511.5" stroke="#000" stroke-width="1.0"/>
<line x1="462" y1="517.5" x2="481" y2="517.5" stroke="#000" stroke-width="1.0"/>
<line x1="462" y1="522.5" x2="481" y2="522.5" stroke="#000" stroke-width="1.0"/>
<line x1="464" y1="499" x2="476" y2="491" stroke="#000" stroke-width="0.8" stroke-dasharray="1.5,1"/>
<line x1="475.5" y1="465" x2="475.5" y2="552" stroke="#000" stroke-width="0.9"/>
<polygon points="433.3,492.5 436.8,492 443.6,546.3 440.2,546.8" fill="#fff" stroke="#000" stroke-width="0.9"/>
<line x1="440.4" y1="546.5" x2="461" y2="546.5" stroke="#000" stroke-width="0.9"/>
<line x1="440.4" y1="549.5" x2="461" y2="549.5" stroke="#000" stroke-width="0.9"/>
<line x1="477.8" y1="546.5" x2="484" y2="546.5" stroke="#000" stroke-width="0.9"/>
<line x1="477.8" y1="549.5" x2="484" y2="549.5" stroke="#000" stroke-width="0.9"/>
<text transform="translate(459 537) scale(0.86 1)" font-size="3.3" text-anchor="middle" fill="#000" font-weight="bold">Cofre técnico</text>
<text transform="translate(459 542.5) scale(0.86 1)" font-size="3" text-anchor="middle" fill="#000" font-weight="bold">9.63 m²</text>
<circle cx="467.5" cy="536.7" r="1.7" fill="#000"/>
<line x1="467.5" y1="536.7" x2="477.8" y2="546.3" stroke="#000" stroke-width="1.3"/>
<path d="M461 548 Q462 540 467.5 536.7" fill="none" stroke="#000" stroke-width="0.8" stroke-dasharray="1.5,1.2"/>
<text transform="translate(471 528) rotate(-90) scale(0.86 1)" font-size="3" text-anchor="middle" fill="#000" font-weight="bold">4.20</text>
<rect x="481.5" y="483.5" width="3" height="66" fill="#c8c8c8" stroke="#000" stroke-width="0.6"/>
<line x1="497.5" y1="480" x2="497.5" y2="553" stroke="#000" stroke-width="0.9"/>
<line x1="526.5" y1="478" x2="526.5" y2="628.5" stroke="#000" stroke-width="0.9"/>
<line x1="484" y1="549.5" x2="542.4" y2="549.5" stroke="#aaa" stroke-width="0.8"/>
<text transform="translate(518 500) scale(0.86 1)" font-size="3.4" text-anchor="middle" fill="#000" font-weight="bold">Área técnica</text>
<text transform="translate(518 506) scale(0.86 1)" font-size="3.2" text-anchor="middle" fill="#000" font-weight="bold">10.60 m²</text>
<text transform="translate(491 524) rotate(-90) scale(0.86 1)" font-size="3.4" text-anchor="middle" fill="#000" font-weight="bold">3.30</text>
<text transform="translate(540 560) rotate(-90) scale(0.86 1)" font-size="3.4" text-anchor="middle" fill="#000" font-weight="bold">7.30</text>
<line x1="520" y1="549.5" x2="531" y2="549.5" stroke="#000" stroke-width="0.9"/>
<line x1="436" y1="569.5" x2="496.5" y2="569.5" stroke="#000" stroke-width="1.2"/>
<line x1="436.5" y1="566" x2="436.5" y2="572" stroke="#000" stroke-width="0.9"/>
<line x1="466.5" y1="566" x2="466.5" y2="572" stroke="#000" stroke-width="0.9"/>
<line x1="480.5" y1="566" x2="480.5" y2="572" stroke="#000" stroke-width="0.9"/>
<line x1="483.5" y1="566" x2="483.5" y2="572" stroke="#000" stroke-width="0.9"/>
<line x1="496.5" y1="566" x2="496.5" y2="572" stroke="#000" stroke-width="0.9"/>
<text transform="translate(447 566) scale(0.86 1)" font-size="3.6" text-anchor="middle" fill="#000" font-weight="bold">1.13</text>
<text transform="translate(472 566) scale(0.86 1)" font-size="3.6" text-anchor="middle" fill="#000" font-weight="bold">0.90</text>
<text transform="translate(484 562) scale(0.86 1)" font-size="3.4" text-anchor="middle" fill="#000" font-weight="bold">0.10</text>
<text transform="translate(496 566.5) scale(0.86 1)" font-size="3.4" text-anchor="middle" fill="#000" font-weight="bold">0.15</text>
<line x1="436" y1="581.5" x2="547.7" y2="581.5" stroke="#000" stroke-width="1.2"/>
<line x1="436.5" y1="578.4" x2="436.5" y2="584.4" stroke="#000" stroke-width="0.9"/>
<line x1="480.5" y1="578.4" x2="480.5" y2="584.4" stroke="#000" stroke-width="0.9"/>
<line x1="483.5" y1="578.4" x2="483.5" y2="584.4" stroke="#000" stroke-width="0.9"/>
<line x1="547.5" y1="578.4" x2="547.5" y2="584.4" stroke="#000" stroke-width="0.9"/>
<text transform="translate(456 578.5) scale(0.86 1)" font-size="3.6" text-anchor="middle" fill="#000" font-weight="bold">2.13</text>
<text transform="translate(483 578.5) scale(0.86 1)" font-size="3.6" text-anchor="middle" fill="#000" font-weight="bold">0.15</text>
<text transform="translate(518 578.5) scale(0.86 1)" font-size="3.6" text-anchor="middle" fill="#000" font-weight="bold">3.50</text>
<text transform="translate(523 596) scale(0.86 1)" font-size="3.4" text-anchor="middle" fill="#000" font-weight="bold">Garagem</text>
<text transform="translate(523 602) scale(0.86 1)" font-size="3.2" text-anchor="middle" fill="#000" font-weight="bold">84.62 m²</text>
<rect x="437.5" y="620.5" width="22" height="6" fill="#fff" stroke="#000" stroke-width="0.7"/>
<text transform="translate(448 624.8) scale(0.86 1)" font-size="3.4" text-anchor="middle" fill="#000" font-weight="bold">134.40</text>
<line x1="214" y1="443.5" x2="554" y2="443.5" stroke="#000" stroke-width="1.2"/>
<line x1="217.5" y1="439.9" x2="217.5" y2="446.9" stroke="#000" stroke-width="0.9"/>
<line x1="549.5" y1="439.9" x2="549.5" y2="446.9" stroke="#000" stroke-width="0.9"/>
<text transform="translate(383.9 441.2) scale(0.86 1)" font-size="4.4" text-anchor="middle" fill="#000" font-weight="bold">16.00</text>
<line x1="214" y1="453.5" x2="554" y2="453.5" stroke="#000" stroke-width="1.2"/>
<line x1="217.5" y1="450" x2="217.5" y2="457" stroke="#000" stroke-width="0.9"/>
<line x1="361.5" y1="450" x2="361.5" y2="457" stroke="#000" stroke-width="0.9"/>
<line x1="429.5" y1="450" x2="429.5" y2="457" stroke="#000" stroke-width="0.9"/>
<line x1="488.5" y1="450" x2="488.5" y2="457" stroke="#000" stroke-width="0.9"/>
<line x1="549.5" y1="450" x2="549.5" y2="457" stroke="#000" stroke-width="0.9"/>
<text transform="translate(290.3 451.3) scale(0.86 1)" font-size="4.4" text-anchor="middle" fill="#000" font-weight="bold">7.30</text>
<text transform="translate(396 451.3) scale(0.86 1)" font-size="4.4" text-anchor="middle" fill="#000" font-weight="bold">3.45</text>
<text transform="translate(458 451.3) scale(0.86 1)" font-size="4.4" text-anchor="middle" fill="#000" font-weight="bold">3.00</text>
<text transform="translate(518 451.3) scale(0.86 1)" font-size="4.4" text-anchor="middle" fill="#000" font-weight="bold">3.15</text>
<text transform="translate(424 417.5) scale(0.85 1)" font-size="8.3" text-anchor="middle" fill="#111" font-weight="normal">1</text>
<polygon points="420.3,425.2 427.5,421.4 427.5,429" fill="#000" stroke="none" stroke-width="0.8"/>
<line x1="424.5" y1="428" x2="424.5" y2="460" stroke="#000" stroke-width="1.3" stroke-dasharray="1.6,1.2"/>
<text transform="translate(474.9 416) scale(0.85 1)" font-size="8.3" text-anchor="middle" fill="#111" font-weight="normal">2</text>
<polygon points="471.2,423.6 478.4,419.8 478.4,427.4" fill="#000" stroke="none" stroke-width="0.8"/>
<line x1="474.5" y1="426.5" x2="474.5" y2="460" stroke="#000" stroke-width="1.3" stroke-dasharray="1.6,1.2"/>
<line x1="69.8" y1="465" x2="446" y2="396.8" stroke="#000" stroke-width="0.9" stroke-dasharray="3,2"/>
<line x1="127.8" y1="514.7" x2="549.6" y2="437.3" stroke="#000" stroke-width="0.9" stroke-dasharray="3,2"/>
<line x1="69.5" y1="465" x2="69.5" y2="681" stroke="#000" stroke-width="0.9" stroke-dasharray="3,2"/>
<line x1="127.5" y1="514.7" x2="127.5" y2="635" stroke="#000" stroke-width="0.9" stroke-dasharray="3,2"/>
<line x1="127.8" y1="635.5" x2="218.5" y2="635.5" stroke="#000" stroke-width="0.9" stroke-dasharray="3,2"/>
<line x1="142.8" y1="449.4" x2="154.4" y2="515" stroke="#000" stroke-width="0.8"/>
<text transform="translate(151 482) rotate(80) scale(0.86 1)" font-size="3.6" text-anchor="middle" fill="#000" font-weight="bold">2.25</text>
<line x1="140" y1="449.8" x2="146" y2="448.8" stroke="#000" stroke-width="0.8"/>
<line x1="151" y1="515.5" x2="157" y2="514.5" stroke="#000" stroke-width="0.8"/>
<line x1="64" y1="529.5" x2="131" y2="529.5" stroke="#000" stroke-width="1.2"/>
<line x1="69.5" y1="526.6" x2="69.5" y2="532.6" stroke="#000" stroke-width="0.9"/>
<line x1="128.5" y1="526.6" x2="128.5" y2="532.6" stroke="#000" stroke-width="0.9"/>
<text transform="translate(98.5 527.4) scale(0.86 1)" font-size="4.4" text-anchor="middle" fill="#000" font-weight="bold">3.00</text>
<line x1="193.5" y1="452" x2="193.5" y2="640" stroke="#000" stroke-width="1.0"/>
<line x1="206.5" y1="452" x2="206.5" y2="640" stroke="#000" stroke-width="1.0"/>
<line x1="202.5" y1="458.5" x2="210.5" y2="458.5" stroke="#000" stroke-width="1.0"/>
<line x1="202.5" y1="485.5" x2="210.5" y2="485.5" stroke="#000" stroke-width="1.0"/>
<line x1="202.5" y1="498.5" x2="210.5" y2="498.5" stroke="#000" stroke-width="1.0"/>
<line x1="202.5" y1="515.5" x2="210.5" y2="515.5" stroke="#000" stroke-width="1.0"/>
<line x1="202.5" y1="533.5" x2="210.5" y2="533.5" stroke="#000" stroke-width="1.0"/>
<line x1="189.5" y1="458.5" x2="197.5" y2="458.5" stroke="#000" stroke-width="0.9"/>
<line x1="189.5" y1="640.5" x2="197.5" y2="640.5" stroke="#000" stroke-width="0.9"/>
<text transform="translate(205 472) rotate(-90) scale(0.86 1)" font-size="3.4" text-anchor="middle" fill="#000" font-weight="bold">1.41</text>
<text transform="translate(205 492) rotate(-90) scale(0.86 1)" font-size="3.4" text-anchor="middle" fill="#000" font-weight="bold">0.64</text>
<text transform="translate(205 507) rotate(-90) scale(0.86 1)" font-size="3.4" text-anchor="middle" fill="#000" font-weight="bold">0.64</text>
<text transform="translate(205 548) rotate(-90) scale(0.86 1)" font-size="3.4" text-anchor="middle" fill="#000" font-weight="bold">1.15</text>
<text transform="translate(205 588) rotate(-90) scale(0.86 1)" font-size="3.4" text-anchor="middle" fill="#000" font-weight="bold">5.40</text>
<text transform="translate(168.7 547) scale(0.85 1)" font-size="8.3" text-anchor="middle" fill="#111" font-weight="normal">1</text>
<polygon points="173.8,547 182.2,547 178,540.2" fill="#000" stroke="none" stroke-width="0.8"/>
<line x1="185" y1="544.5" x2="220" y2="544.5" stroke="#000" stroke-width="1.0" stroke-dasharray="2.2,1.8"/>
<text transform="translate(168.7 613.4) scale(0.85 1)" font-size="8.3" text-anchor="middle" fill="#111" font-weight="normal">2</text>
<polygon points="173.8,613.4 182.2,613.4 178,606.6" fill="#000" stroke="none" stroke-width="0.8"/>
<line x1="185" y1="610.5" x2="220" y2="610.5" stroke="#000" stroke-width="1.0" stroke-dasharray="2.2,1.8"/>
<line x1="551.5" y1="436.7" x2="551.5" y2="640" stroke="#000" stroke-width="0.9" stroke-dasharray="2.5,1.5"/>
<line x1="613.4" y1="397" x2="611.3" y2="541.8" stroke="#000" stroke-width="0.9" stroke-dasharray="2.5,1.5"/>
<line x1="551" y1="424.5" x2="617" y2="424.5" stroke="#000" stroke-width="1.2"/>
<line x1="553.5" y1="420.9" x2="553.5" y2="427.9" stroke="#000" stroke-width="0.9"/>
<line x1="614.5" y1="420.9" x2="614.5" y2="427.9" stroke="#000" stroke-width="0.9"/>
<text transform="translate(585 422.2) scale(0.86 1)" font-size="4.4" text-anchor="middle" fill="#000" font-weight="bold">3.00</text>
<line x1="561.5" y1="472" x2="561.5" y2="640" stroke="#000" stroke-width="0.8"/>
<line x1="573.5" y1="452" x2="573.5" y2="625" stroke="#000" stroke-width="0.8"/>
<line x1="568" y1="457.5" x2="578" y2="457.5" stroke="#000" stroke-width="0.9"/>
<line x1="568" y1="472.5" x2="578" y2="472.5" stroke="#000" stroke-width="0.9"/>
<line x1="568" y1="482.5" x2="578" y2="482.5" stroke="#000" stroke-width="0.9"/>
<line x1="558" y1="485.5" x2="566" y2="485.5" stroke="#000" stroke-width="0.9"/>
<text transform="translate(569 470) rotate(-90) scale(0.86 1)" font-size="3.2" text-anchor="middle" fill="#000" font-weight="bold">1.13</text>
<text transform="translate(559 487) rotate(-90) scale(0.86 1)" font-size="3.2" text-anchor="middle" fill="#000" font-weight="bold">1.51</text>
<text transform="translate(558 590) rotate(-90) scale(0.86 1)" font-size="3.2" text-anchor="middle" fill="#000" font-weight="bold">7.30</text>
<text transform="translate(570 590) rotate(-90) scale(0.86 1)" font-size="3.2" text-anchor="middle" fill="#000" font-weight="bold">4.20</text>
<line x1="557" y1="605.5" x2="566" y2="605.5" stroke="#000" stroke-width="0.9"/>
<line x1="557" y1="617.5" x2="566" y2="617.5" stroke="#000" stroke-width="0.9"/>
<text transform="translate(566 611) rotate(-90) scale(0.86 1)" font-size="3.2" text-anchor="middle" fill="#000" font-weight="bold">1.80</text>
<text transform="translate(598 546.3) scale(0.85 1)" font-size="8.3" text-anchor="middle" fill="#111" font-weight="normal">1</text>
<polygon points="584.55,546.3 592.95,546.3 588.75,539.5" fill="#000" stroke="none" stroke-width="0.8"/>
<line x1="552" y1="543.5" x2="583" y2="543.5" stroke="#000" stroke-width="1.0" stroke-dasharray="2.2,1.8"/>
<text transform="translate(598 613.6) scale(0.85 1)" font-size="8.3" text-anchor="middle" fill="#111" font-weight="normal">2</text>
<polygon points="584.55,613.6 592.95,613.6 588.75,606.8" fill="#000" stroke="none" stroke-width="0.8"/>
<line x1="555" y1="610.5" x2="583" y2="610.5" stroke="#000" stroke-width="1.0" stroke-dasharray="2.2,1.8"/>
<polygon points="605,541.9 609.4,541.9 607.2,752.7 602.8,752.7" fill="#c8c8c8" stroke="#000" stroke-width="0.9"/>
<line x1="214" y1="655.5" x2="554" y2="655.5" stroke="#000" stroke-width="1.3"/>
<line x1="217.5" y1="651.7" x2="217.5" y2="658.7" stroke="#000" stroke-width="0.9"/>
<line x1="402.5" y1="651.7" x2="402.5" y2="658.7" stroke="#000" stroke-width="0.9"/>
<line x1="480.5" y1="651.7" x2="480.5" y2="658.7" stroke="#000" stroke-width="0.9"/>
<line x1="487.5" y1="651.7" x2="487.5" y2="658.7" stroke="#000" stroke-width="0.9"/>
<line x1="500.5" y1="651.7" x2="500.5" y2="658.7" stroke="#000" stroke-width="0.9"/>
<line x1="526.5" y1="651.7" x2="526.5" y2="658.7" stroke="#000" stroke-width="0.9"/>
<line x1="535.5" y1="651.7" x2="535.5" y2="658.7" stroke="#000" stroke-width="0.9"/>
<line x1="549.5" y1="651.7" x2="549.5" y2="658.7" stroke="#000" stroke-width="0.9"/>
<text transform="translate(307.4 653) scale(0.86 1)" font-size="4.4" text-anchor="middle" fill="#000" font-weight="bold">9.15</text>
<text transform="translate(410 653) scale(0.86 1)" font-size="4.4" text-anchor="middle" fill="#000" font-weight="bold">-0.25</text>
<text transform="translate(440 653) scale(0.86 1)" font-size="4.4" text-anchor="middle" fill="#000" font-weight="bold">4.00</text>
<text transform="translate(483 653) scale(0.86 1)" font-size="4.4" text-anchor="middle" fill="#000" font-weight="bold">0.75</text>
<text transform="translate(513 653) scale(0.86 1)" font-size="4.4" text-anchor="middle" fill="#000" font-weight="bold">2.00</text>
<text transform="translate(542 653) scale(0.86 1)" font-size="4.4" text-anchor="middle" fill="#000" font-weight="bold">0.75</text>
<line x1="214" y1="672.5" x2="554" y2="672.5" stroke="#000" stroke-width="1.0"/>
<line x1="217.5" y1="668.5" x2="217.5" y2="675.5" stroke="#000" stroke-width="0.9"/>
<line x1="549.5" y1="668.5" x2="549.5" y2="675.5" stroke="#000" stroke-width="0.9"/>
<rect x="376" y="665" width="18" height="6" fill="#fff" stroke="none" stroke-width="0.8"/>
<text transform="translate(384.5 670) scale(0.86 1)" font-size="3.6" text-anchor="middle" fill="#000" font-weight="bold">16.00</text>
<line x1="149.5" y1="632.6" x2="149.5" y2="756" stroke="#000" stroke-width="0.9"/>
<line x1="145.5" y1="640.5" x2="153.5" y2="640.5" stroke="#000" stroke-width="0.9"/>
<line x1="145.5" y1="752.5" x2="153.5" y2="752.5" stroke="#000" stroke-width="0.9"/>
<rect x="146.5" y="689" width="6" height="11" fill="#fff" stroke="none" stroke-width="0.8"/>
<text transform="translate(151 694.5) rotate(-90) scale(0.86 1)" font-size="3.4" text-anchor="middle" fill="#000" font-weight="bold">4.80</text>
<path d="M447 656 C452 680 480 690 505 692" fill="none" stroke="#000" stroke-width="0.8" stroke-dasharray="2,1.6"/>
<path d="M515 692 C545 690 572 660 578 590" fill="none" stroke="#000" stroke-width="0.8" stroke-dasharray="2,1.6"/>
<line x1="447" y1="656" x2="442" y2="668" stroke="#000" stroke-width="0.7" stroke-dasharray="1.5,1.2"/>
<line x1="447" y1="656" x2="456" y2="663" stroke="#000" stroke-width="0.7" stroke-dasharray="1.5,1.2"/>
<text transform="translate(581 625) rotate(-88) scale(0.86 1)" font-size="3.2" text-anchor="middle" fill="#000" font-weight="bold">Rampa 16.6%</text>
<line x1="424.5" y1="642.5" x2="424.5" y2="688" stroke="#000" stroke-width="1.3" stroke-dasharray="1.6,1.2"/>
<polygon points="420.3,692 427.5,688.2 427.5,695.8" fill="#000" stroke="none" stroke-width="0.8"/>
<text transform="translate(424 704) scale(0.85 1)" font-size="8.3" text-anchor="middle" fill="#111" font-weight="normal">1</text>
<line x1="475.5" y1="642.5" x2="475.5" y2="688" stroke="#000" stroke-width="1.3" stroke-dasharray="1.6,1.2"/>
<polygon points="471.5,692 478.7,688.2 478.7,695.8" fill="#000" stroke="none" stroke-width="0.8"/>
<text transform="translate(475.2 704) scale(0.85 1)" font-size="8.3" text-anchor="middle" fill="#111" font-weight="normal">2</text>
<rect x="434.5" y="636.5" width="18" height="7" fill="#fff" stroke="#000" stroke-width="0.7"/>
<text transform="translate(443.7 641.7) scale(0.86 1)" font-size="3.6" text-anchor="middle" fill="#000" font-weight="bold">134.30</text>
<rect x="566.5" y="642.5" width="18" height="7" fill="#fff" stroke="#000" stroke-width="0.7"/>
<text transform="translate(575 647.8) scale(0.86 1)" font-size="3.6" text-anchor="middle" fill="#000" font-weight="bold">134.04</text>
<rect x="541.5" y="678.5" width="18" height="7" fill="#fff" stroke="#000" stroke-width="0.7"/>
<text transform="translate(550.6 683.9) scale(0.86 1)" font-size="3.6" text-anchor="middle" fill="#000" font-weight="bold">134.76</text>
<rect x="499.5" y="687.5" width="18" height="6" fill="#fff" stroke="#000" stroke-width="0.7"/>
<text transform="translate(508 692.4) scale(0.86 1)" font-size="3.6" text-anchor="middle" fill="#000" font-weight="bold">134.52</text>
<rect x="575.5" y="736.5" width="18" height="6" fill="#fff" stroke="#000" stroke-width="0.7"/>
<text transform="translate(584.3 741.2) scale(0.86 1)" font-size="3.6" text-anchor="middle" fill="#000" font-weight="bold">134.72</text>
<rect x="404.5" y="733.5" width="18" height="6" fill="#fff" stroke="#000" stroke-width="0.7"/>
<text transform="translate(413.3 738.4) scale(0.86 1)" font-size="3.6" text-anchor="middle" fill="#000" font-weight="bold">134.30</text>
<rect x="322.5" y="719.5" width="80" height="4" fill="#c8c8c8" stroke="#000" stroke-width="0.8"/>
<line x1="398.5" y1="635" x2="398.5" y2="723.5" stroke="#000" stroke-width="1.2"/>
<line x1="402.5" y1="635" x2="402.5" y2="748.4" stroke="#000" stroke-width="1.0"/>
<rect x="358" y="723.5" width="40" height="25" fill="#fff" stroke="none" stroke-width="0.8"/>
<line x1="374.5" y1="723.5" x2="374.5" y2="748.4" stroke="#000" stroke-width="0.7"/>
<line x1="379.5" y1="723.5" x2="379.5" y2="748.4" stroke="#000" stroke-width="0.7"/>
<line x1="384.5" y1="723.5" x2="384.5" y2="748.4" stroke="#000" stroke-width="0.7"/>
<line x1="389.5" y1="723.5" x2="389.5" y2="748.4" stroke="#000" stroke-width="0.7"/>
<line x1="394.5" y1="723.5" x2="394.5" y2="748.4" stroke="#000" stroke-width="0.7"/>
<rect x="362.5" y="727.5" width="8" height="18" fill="#fff" stroke="#000" stroke-width="0.7"/>
<text transform="translate(366.5 736) rotate(-90) scale(0.86 1)" font-size="3" text-anchor="middle" fill="#000" font-weight="bold">134.30</text>
<line x1="370" y1="736.5" x2="382" y2="736.5" stroke="#000" stroke-width="0.6" stroke-dasharray="1.2,1"/>
<line x1="402.5" y1="720.5" x2="414.4" y2="720.5" stroke="#000" stroke-width="0.9"/>
<text transform="translate(416 722) scale(0.86 1)" font-size="3.6" text-anchor="start" fill="#000" font-weight="bold">Muro betão armado</text>
<line x1="440.5" y1="737.7" x2="440.5" y2="748.4" stroke="#000" stroke-width="0.9"/>
<line x1="440.3" y1="737.5" x2="452.7" y2="737.5" stroke="#000" stroke-width="0.9"/>
<text transform="translate(454 739.2) scale(0.86 1)" font-size="3.6" text-anchor="start" fill="#000" font-weight="bold">Muro betão armado</text>
<rect x="67.5" y="748.5" width="538" height="4" fill="#c8c8c8" stroke="#000" stroke-width="0.9"/>
<rect x="67.5" y="680.5" width="5" height="72" fill="#c8c8c8" stroke="#000" stroke-width="0.9"/>
<line x1="74.5" y1="761.5" x2="598" y2="761.5" stroke="#000" stroke-width="0.9"/>
<line x1="74.5" y1="761" x2="74.5" y2="781.6" stroke="#000" stroke-width="0.9"/>
<line x1="598.5" y1="761" x2="598.5" y2="781.6" stroke="#000" stroke-width="0.9"/>
<line x1="65.5" y1="740" x2="65.5" y2="781.6" stroke="#000" stroke-width="1.0"/>
<line x1="57" y1="743.5" x2="63.5" y2="743.5" stroke="#000" stroke-width="1.0"/>
<line x1="62" y1="743.5" x2="65.3" y2="743.5" stroke="#000" stroke-width="0.6"/>
<line x1="57" y1="751.5" x2="63.5" y2="751.5" stroke="#000" stroke-width="1.0"/>
<line x1="62" y1="751.5" x2="65.3" y2="751.5" stroke="#000" stroke-width="0.6"/>
<line x1="57" y1="759.5" x2="63.5" y2="759.5" stroke="#000" stroke-width="1.0"/>
<line x1="62" y1="759.5" x2="65.3" y2="759.5" stroke="#000" stroke-width="0.6"/>
<line x1="57" y1="767.5" x2="63.5" y2="767.5" stroke="#000" stroke-width="1.0"/>
<line x1="62" y1="767.5" x2="65.3" y2="767.5" stroke="#000" stroke-width="0.6"/>
<line x1="57" y1="775.5" x2="63.5" y2="775.5" stroke="#000" stroke-width="1.0"/>
<line x1="62" y1="775.5" x2="65.3" y2="775.5" stroke="#000" stroke-width="0.6"/>
<line x1="158.5" y1="753" x2="158.5" y2="761" stroke="#888" stroke-width="0.6"/>
<line x1="228.5" y1="753" x2="228.5" y2="761" stroke="#888" stroke-width="0.6"/>
<line x1="306.5" y1="753" x2="306.5" y2="761" stroke="#888" stroke-width="0.6"/>
<line x1="414.5" y1="753" x2="414.5" y2="761" stroke="#888" stroke-width="0.6"/>
<line x1="110.5" y1="761" x2="110.5" y2="769.9" stroke="#000" stroke-width="0.9"/>
<line x1="110.9" y1="769.5" x2="123" y2="769.5" stroke="#000" stroke-width="0.9"/>
<text transform="translate(124.5 771.3) scale(0.86 1)" font-size="3.6" text-anchor="start" fill="#000" font-weight="bold">Muro vizinho</text>
<line x1="402.5" y1="761" x2="402.5" y2="769.7" stroke="#000" stroke-width="0.9"/>
<line x1="402.5" y1="769.5" x2="414.4" y2="769.5" stroke="#000" stroke-width="0.9"/>
<text transform="translate(416 771.1) scale(0.86 1)" font-size="3.6" text-anchor="start" fill="#000" font-weight="bold">Muro vizinho</text>
<text transform="translate(57 797) scale(0.9 1)" font-size="7.3" text-anchor="start" fill="#111" font-weight="normal">Planta Cave</text>
<line x1="0.5" y1="9" x2="0.5" y2="800" stroke="#cfcfcf" stroke-width="1.0"/>
<rect x="0" y="0" width="1.8" height="8.6" fill="#555" stroke="none" stroke-width="0.8"/>
<line x1="49.5" y1="0" x2="49.5" y2="8.6" stroke="#000" stroke-width="1.0"/>
<line x1="1163.5" y1="0" x2="1163.5" y2="8.6" stroke="#000" stroke-width="1.0"/>
<line x1="1164.5" y1="9" x2="1164.5" y2="800" stroke="#bdbdbd" stroke-width="1.0"/>
</svg></body></html>
